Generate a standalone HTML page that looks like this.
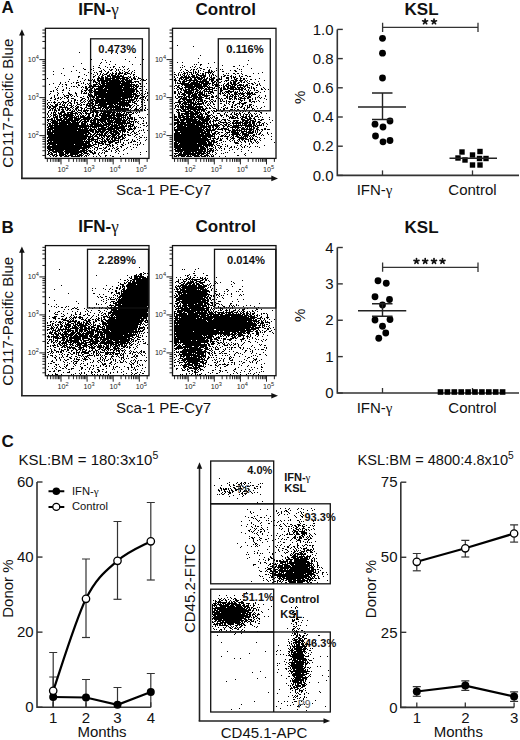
<!DOCTYPE html>
<html><head><meta charset="utf-8"><style>
html,body{margin:0;padding:0;background:#fff;width:520px;height:740px;overflow:hidden}
svg{display:block}
text{font-family:"Liberation Sans",sans-serif}
</style></head><body>
<svg width="520" height="740" viewBox="0 0 520 740" font-family="Liberation Sans, sans-serif">
<rect width="520" height="740" fill="#fff"/>
<g>
<path d="M79 52.5h1m31 1h1m5 0h1m17 4h1m-45 2h1m10 0h1m22 0h1m17 0h1m-39 1h1m4 1h1m18 0h1m-29 1h1m4 0h1m-26 1h1m18 0h1m8 1h1m5 0h1m16 0h1m7 0h1m-42 1h1m-27 1h1m19 0h1m11 0h1m7 0h2m7 0h1m1 0h1m-35 1h1m7 0h2m7 0h1m2 0h1m2 0h1m5 0h1m3 0h1m-61 1h1m19 0h1m9 0h1m6 0h1m14 0h1m12 0h1m-45 1h2m5 0h1m11 0h1m5 0h1m1 0h2m3 0h1m1 0h1m1 0h1m3 0h1m2 0h1m-52 1h1m16 0h1m7 0h1m2 0h1m5 0h2m4 0h1m1 0h1m3 0h1m6 0h1m4 0h1m-82 1h1m17 0h1m27 0h3m3 0h1m2 0h1m6 0h1m3 0h1m4 0h1m3 0h1m3 0h1m-54 1h1m8 0h1m5 0h1m1 0h1m4 0h1m5 0h2m3 0h1m3 0h1m2 0h2m1 0h1m2 0h3m3 0h1m2 0h1m-74 1h1m29 0h1m5 0h1m2 0h1m2 0h1m2 0h2m2 0h1m1 0h2m1 0h2m1 0h5m1 0h2m1 0h3m1 0h1m-79 1h1m30 0h1m8 0h1m3 0h1m2 0h1m1 0h1m1 0h3m2 0h1m1 0h2m2 0h2m1 0h2m4 0h3m3 0h1m2 0h2m-71 1h1m21 0h1m8 0h1m3 0h1m2 0h2m3 0h3m1 0h5m1 0h2m1 0h2m1 0h1m9 0h1m-56 1h2m13 0h2m3 0h1m2 0h2m2 0h1m1 0h4m1 0h12m4 0h1m1 0h1m3 0h1m1 0h1m-59 1h1m14 0h1m4 0h2m1 0h3m1 0h3m2 0h1m1 0h8m2 0h6m1 0h2m2 0h2m3 0h1m-92 1h1m34 0h1m7 0h1m6 0h7m1 0h10m1 0h9m1 0h3m2 0h1m1 0h3m2 0h3m-72 1h1m15 0h1m2 0h1m3 0h1m1 0h1m2 0h2m1 0h4m1 0h6m1 0h7m1 0h1m1 0h6m1 0h1m1 0h2m1 0h2m1 0h1m3 0h1m1 0h1m2 0h1m-70 1h1m6 0h1m3 0h2m1 0h1m1 0h2m2 0h23m1 0h3m1 0h7m8 0h1m2 0h3m-78 1h1m11 0h1m12 0h3m2 0h2m1 0h7m1 0h16m1 0h6m2 0h5m-79 1h1m4 0h1m7 0h1m2 0h3m4 0h1m9 0h1m1 0h3m1 0h1m1 0h4m1 0h15m1 0h12m1 0h1m2 0h1m-86 1h1m6 0h1m10 0h1m4 0h1m4 0h1m1 0h1m3 0h1m1 0h2m5 0h1m1 0h2m1 0h29m1 0h1m7 0h2m5 0h1m-98 1h1m9 0h1m2 0h1m2 0h2m11 0h1m6 0h1m2 0h1m4 0h5m1 0h2m1 0h3m1 0h14m1 0h14m1 0h2m2 0h1m-75 1h1m11 0h2m9 0h3m1 0h3m2 0h1m1 0h32m1 0h4m1 0h1m-81 1h1m3 0h1m8 0h1m1 0h2m1 0h1m5 0h1m2 0h2m2 0h1m1 0h32m1 0h10m1 0h4m1 0h3m1 0h1m-90 1h1m10 0h1m10 0h1m3 0h1m1 0h1m1 0h2m1 0h3m1 0h2m4 0h6m1 0h25m1 0h1m1 0h2m1 0h2m-81 1h1m8 0h1m2 0h1m15 0h3m3 0h2m1 0h1m1 0h7m1 0h18m1 0h11m1 0h2m2 0h2m-85 1h1m6 0h1m18 0h1m3 0h2m1 0h3m2 0h13m1 0h29m9 0h1m-94 1h1m3 0h1m4 0h2m5 0h1m11 0h1m2 0h3m1 0h5m1 0h2m2 0h37m1 0h2m2 0h2m-92 1h2m1 0h1m27 0h2m2 0h1m3 0h3m1 0h30m1 0h11m1 0h3m3 0h1m2 0h1m-89 1h1m4 0h1m5 0h1m6 0h1m5 0h1m2 0h1m1 0h1m2 0h1m1 0h2m1 0h12m1 0h27m2 0h1m2 0h1m7 0h1m-98 1h1m7 0h1m9 0h2m5 0h2m4 0h1m1 0h4m1 0h1m5 0h38m1 0h3m1 0h1m1 0h1m1 0h2m2 0h1m1 0h1m-99 1h1m7 0h1m5 0h1m5 0h3m4 0h1m11 0h2m1 0h1m2 0h43m3 0h1m1 0h1m1 0h1m-91 1h1m2 0h1m6 0h1m1 0h3m1 0h1m1 0h1m3 0h1m11 0h5m1 0h3m1 0h34m1 0h1m1 0h5m1 0h2m4 0h1m-94 1h1m9 0h2m2 0h1m2 0h1m2 0h1m2 0h1m5 0h1m3 0h1m1 0h1m1 0h4m1 0h38m1 0h4m4 0h2m1 0h1m-96 1h1m2 0h1m3 0h1m1 0h1m1 0h1m3 0h3m11 0h2m5 0h2m3 0h3m1 0h25m1 0h11m1 0h2m1 0h1m2 0h2m1 0h1m1 0h1m-96 1h2m3 0h1m1 0h2m2 0h1m2 0h1m2 0h1m3 0h3m8 0h3m3 0h1m4 0h1m1 0h4m2 0h3m1 0h23m1 0h1m1 0h1m2 0h4m1 0h2m4 0h1m-92 1h2m4 0h1m7 0h1m5 0h2m5 0h2m2 0h1m2 0h1m1 0h5m1 0h29m2 0h1m1 0h6m1 0h1m4 0h1m1 0h1m3 0h1m-101 1h1m2 0h1m6 0h1m10 0h1m2 0h1m2 0h2m1 0h1m2 0h2m2 0h1m2 0h1m1 0h1m1 0h2m1 0h27m1 0h12m2 0h1m1 0h1m5 0h1m2 0h1m-94 1h1m7 0h2m3 0h2m2 0h1m2 0h1m5 0h1m2 0h1m1 0h1m2 0h3m1 0h2m1 0h30m1 0h1m1 0h3m1 0h1m1 0h2m1 0h1m3 0h1m-94 1h2m1 0h1m1 0h3m2 0h2m1 0h1m1 0h4m2 0h2m3 0h1m1 0h2m3 0h2m1 0h1m3 0h1m1 0h3m2 0h11m1 0h11m1 0h12m1 0h3m6 0h1m2 0h1m-98 1h1m6 0h1m2 0h1m2 0h1m2 0h1m1 0h1m2 0h1m1 0h2m2 0h1m2 0h1m2 0h1m6 0h3m1 0h3m1 0h3m1 0h30m5 0h3m-90 1h1m2 0h1m4 0h3m1 0h2m1 0h1m1 0h1m2 0h1m3 0h1m5 0h3m1 0h1m1 0h2m1 0h2m1 0h2m1 0h2m1 0h1m2 0h15m1 0h2m1 0h13m2 0h1m3 0h1m4 0h1m-94 1h1m2 0h2m2 0h3m4 0h3m2 0h1m1 0h3m1 0h1m2 0h1m3 0h2m4 0h7m1 0h13m2 0h5m1 0h3m1 0h13m2 0h1m2 0h2m5 0h2m-99 1h1m1 0h2m1 0h5m2 0h3m2 0h1m1 0h1m4 0h2m2 0h1m1 0h2m7 0h1m1 0h3m1 0h3m3 0h1m1 0h7m1 0h13m1 0h3m1 0h2m1 0h2m2 0h1m2 0h1m4 0h1m-95 1h1m1 0h2m2 0h3m3 0h9m2 0h2m1 0h1m2 0h3m1 0h2m3 0h2m3 0h1m1 0h4m2 0h4m1 0h18m1 0h1m1 0h1m4 0h2m1 0h1m3 0h1m3 0h1m4 0h1m-98 1h2m1 0h3m1 0h1m1 0h1m1 0h1m2 0h1m2 0h1m1 0h3m2 0h1m2 0h3m3 0h2m1 0h1m2 0h7m1 0h6m1 0h2m1 0h4m1 0h2m1 0h1m1 0h14m2 0h1m3 0h2m2 0h1m2 0h1m2 0h1m-96 1h1m1 0h1m1 0h2m2 0h2m1 0h3m1 0h1m1 0h2m1 0h1m2 0h1m1 0h2m1 0h1m2 0h1m2 0h1m1 0h1m4 0h1m1 0h3m4 0h1m1 0h1m1 0h1m1 0h2m1 0h20m1 0h1m3 0h5m1 0h2m2 0h1m2 0h1m-99 1h2m1 0h1m1 0h3m1 0h2m2 0h2m2 0h2m1 0h2m1 0h1m1 0h1m1 0h1m1 0h4m1 0h6m1 0h2m1 0h6m1 0h3m1 0h2m1 0h19m1 0h3m3 0h2m1 0h1m1 0h1m2 0h2m1 0h2m-98 1h1m5 0h1m1 0h1m4 0h4m6 0h4m2 0h1m3 0h1m1 0h3m1 0h1m2 0h1m1 0h6m2 0h12m1 0h2m1 0h5m1 0h4m4 0h1m5 0h1m2 0h1m-92 1h1m2 0h1m1 0h3m2 0h1m1 0h5m2 0h6m2 0h2m1 0h3m1 0h1m2 0h2m3 0h4m1 0h4m2 0h1m1 0h13m1 0h1m1 0h1m1 0h1m2 0h1m1 0h6m1 0h1m1 0h1m1 0h1m1 0h1m-93 1h1m3 0h1m1 0h1m1 0h1m2 0h4m2 0h2m1 0h2m1 0h8m2 0h2m1 0h1m1 0h6m2 0h1m2 0h2m2 0h6m1 0h4m1 0h3m1 0h5m2 0h2m1 0h1m1 0h1m3 0h2m2 0h1m-90 1h1m2 0h1m2 0h4m2 0h3m1 0h10m2 0h1m1 0h1m1 0h1m1 0h1m4 0h1m1 0h2m2 0h2m2 0h2m1 0h2m1 0h8m1 0h4m1 0h8m1 0h3m1 0h3m15 0h1m-100 1h1m2 0h1m1 0h3m1 0h1m1 0h1m1 0h13m1 0h1m2 0h1m1 0h1m1 0h2m1 0h1m2 0h2m2 0h2m1 0h3m1 0h28m2 0h2m7 0h1m-91 1h1m1 0h1m2 0h1m1 0h3m1 0h3m1 0h2m1 0h7m1 0h1m1 0h3m1 0h5m2 0h3m2 0h2m1 0h4m2 0h11m1 0h2m1 0h6m1 0h1m1 0h1m1 0h1m1 0h2m-84 1h1m1 0h1m3 0h5m1 0h2m2 0h5m1 0h8m1 0h1m1 0h12m2 0h2m3 0h1m1 0h6m1 0h8m1 0h3m1 0h5m1 0h2m1 0h3m1 0h1m4 0h2m1 0h1m2 0h1m-95 1h2m1 0h1m1 0h2m2 0h3m1 0h3m1 0h5m1 0h7m2 0h8m1 0h1m1 0h4m2 0h22m1 0h1m1 0h1m1 0h6m1 0h1m6 0h1m1 0h1m-97 1h6m1 0h1m1 0h6m1 0h10m1 0h6m1 0h9m1 0h1m1 0h17m1 0h1m1 0h9m1 0h2m1 0h2m1 0h1m1 0h2m1 0h3m-90 1h2m2 0h5m1 0h8m1 0h13m1 0h2m2 0h2m1 0h2m1 0h6m1 0h9m1 0h7m1 0h12m1 0h2m4 0h1m8 0h1m-96 1h1m1 0h1m1 0h6m1 0h1m1 0h9m1 0h5m1 0h1m1 0h2m1 0h7m1 0h2m1 0h3m1 0h2m1 0h6m1 0h6m1 0h7m1 0h4m1 0h1m1 0h5m1 0h2m1 0h1m4 0h1m-97 1h1m3 0h7m1 0h12m1 0h8m1 0h2m1 0h3m3 0h6m1 0h3m1 0h2m1 0h3m1 0h18m1 0h3m1 0h1m1 0h1m1 0h1m1 0h1m8 0h1m-99 1h3m1 0h27m2 0h5m1 0h1m3 0h8m1 0h1m1 0h2m1 0h6m1 0h1m1 0h1m1 0h15m2 0h1m4 0h1m3 0h2m2 0h1m-100 1h1m1 0h2m1 0h1m1 0h4m1 0h8m1 0h11m2 0h5m1 0h1m1 0h13m1 0h10m1 0h3m1 0h5m1 0h1m1 0h1m3 0h4m6 0h1m-94 1h1m1 0h40m1 0h3m1 0h13m1 0h2m1 0h9m1 0h3m1 0h2m1 0h3m1 0h2m9 0h2m2 0h1m-100 1h5m1 0h50m2 0h3m1 0h8m1 0h8m1 0h5m1 0h1m1 0h1m9 0h1m-100 1h2m1 0h28m1 0h8m1 0h1m1 0h1m1 0h5m1 0h1m2 0h6m1 0h5m1 0h11m3 0h1m1 0h1m3 0h2m2 0h1m1 0h1m-93 1h33m1 0h1m1 0h5m1 0h2m2 0h1m1 0h1m1 0h8m1 0h18m1 0h1m2 0h3m1 0h3m-89 1h6m1 0h34m1 0h7m1 0h18m1 0h3m2 0h5m1 0h6m1 0h1m8 0h1m-97 1h1m1 0h2m1 0h25m1 0h16m1 0h2m1 0h3m1 0h4m2 0h4m1 0h4m1 0h8m2 0h2m3 0h1m5 0h1m1 0h1m1 0h1m3 0h1m-101 1h4m1 0h37m1 0h4m1 0h10m1 0h3m1 0h8m1 0h2m1 0h4m1 0h1m4 0h2m4 0h1m-92 1h43m2 0h2m1 0h4m1 0h4m1 0h3m1 0h3m1 0h6m1 0h1m1 0h1m1 0h1m2 0h2m2 0h1m2 0h1m1 0h1m7 0h1m-98 1h6m1 0h33m1 0h3m3 0h2m1 0h1m1 0h1m1 0h2m1 0h3m1 0h1m1 0h4m1 0h5m2 0h1m7 0h1m3 0h2m3 0h1m-93 1h37m1 0h4m1 0h2m1 0h2m1 0h7m1 0h2m1 0h1m3 0h6m1 0h2m2 0h4m1 0h2m3 0h1m3 0h2m-90 1h40m2 0h1m1 0h2m1 0h2m2 0h8m1 0h3m1 0h4m1 0h2m2 0h2m1 0h2m2 0h3m4 0h1m6 0h1m-95 1h45m1 0h4m1 0h1m1 0h1m1 0h2m1 0h4m1 0h4m1 0h1m1 0h5m1 0h1m9 0h1m4 0h1m-93 1h40m1 0h3m1 0h2m3 0h2m2 0h2m1 0h1m2 0h2m1 0h1m1 0h5m1 0h3m1 0h2m1 0h1m10 0h1m3 0h2m2 0h1m1 0h1m-100 1h1m1 0h38m1 0h2m1 0h3m3 0h4m1 0h2m2 0h2m1 0h1m1 0h2m1 0h6m2 0h3m14 0h1m-92 1h38m1 0h11m3 0h2m1 0h1m1 0h4m1 0h2m1 0h2m2 0h1m1 0h3m5 0h1m3 0h1m4 0h1m8 0h1m-100 1h36m1 0h1m1 0h1m1 0h2m1 0h3m1 0h1m1 0h1m1 0h1m2 0h1m1 0h2m1 0h2m1 0h1m1 0h7m1 0h1m3 0h1m1 0h2m4 0h1m1 0h1m4 0h1m5 0h1m-99 1h2m1 0h2m1 0h39m2 0h4m2 0h7m1 0h7m3 0h1m1 0h1m10 0h1m1 0h3m-88 1h36m1 0h5m2 0h1m2 0h5m1 0h2m1 0h2m2 0h5m2 0h4m1 0h1m2 0h1m4 0h1m1 0h2m5 0h1m2 0h1m-94 1h43m2 0h1m2 0h1m2 0h6m1 0h1m3 0h2m4 0h2m6 0h1m4 0h1m11 0h1m-94 1h1m1 0h7m1 0h17m1 0h12m1 0h3m2 0h4m1 0h1m3 0h2m1 0h5m2 0h1m4 0h1m3 0h2m2 0h1m7 0h1m1 0h1m1 0h1m1 0h1m3 0h1m-96 1h2m2 0h42m4 0h1m1 0h2m5 0h1m1 0h2m1 0h2m8 0h2m13 0h1m-91 1h35m1 0h9m2 0h1m3 0h1m7 0h1m1 0h1m1 0h1m1 0h1m4 0h1m2 0h2m8 0h1m-84 1h43m2 0h1m2 0h3m5 0h1m1 0h2m6 0h1m2 0h1m4 0h1m5 0h1m5 0h1m2 0h1m-90 1h4m1 0h35m1 0h1m1 0h1m3 0h1m2 0h1m1 0h3m2 0h2m3 0h1m2 0h1m1 0h1m2 0h2m7 0h1m-79 1h32m2 0h3m1 0h2m6 0h1m2 0h1m5 0h1m4 0h2m6 0h2m6 0h1m6 0h1m-85 1h1m1 0h5m1 0h9m1 0h14m1 0h7m1 0h3m1 0h1m3 0h1m5 0h1m1 0h1m1 0h1m4 0h1m3 0h1m2 0h1m4 0h1m-76 1h2m2 0h11m1 0h21m1 0h2m1 0h3m2 0h1m10 0h3m3 0h1m4 0h1m2 0h1m26 0h1m-99 1h1m1 0h2m1 0h4m1 0h6m1 0h17m1 0h4m3 0h3m1 0h2m3 0h1m2 0h1m1 0h1m10 0h1m24 0h1m-93 1h2m1 0h2m3 0h1m2 0h5m1 0h4m1 0h9m2 0h2m1 0h5m3 0h4m2 0h1m2 0h1m2 0h1m13 0h1m8 0h1m-81 1h2m1 0h3m1 0h3m2 0h7m1 0h1m2 0h8m1 0h3m1 0h1m3 0h1m1 0h1m3 0h1m4 0h1m24 0h1m16 0h1m-92 1h1m2 0h3m1 0h2m1 0h5m1 0h2m1 0h5m2 0h1m1 0h6m2 0h2m1 0h1m10 0h1m5 0h2m3 0h1m-61 1h1m2 0h1m1 0h2m3 0h2m2 0h5m2 0h9m1 0h1m2 0h1m1 0h1m6 0h1m2 0h1m3 0h1m4 0h1m6 0h2m6 0h1" stroke="#000" stroke-width="1" fill="none"/>
<path d="M177 45.5h1m15 1h1m36 1h1m-31 8h1m-3 3h1m49 2h1m-72 2h1m4 0h1m15 0h1m15 0h1m-7 1h1m9 0h1m-25 1h1m1 0h1m3 0h2m45 0h1m-66 1h1m17 0h1m21 0h1m16 0h1m-56 1h1m7 0h1m2 0h1m37 0h2m8 0h1m-64 1h1m1 0h1m7 0h1m3 0h1m4 0h1m7 0h1m2 0h1m-14 1h1m2 0h2m14 0h1m20 0h1m13 0h1m-71 1h1m3 0h1m5 0h1m1 0h2m1 0h1m6 0h2m4 0h1m10 0h1m1 0h1m16 0h1m1 0h1m-62 1h1m5 0h2m2 0h1m2 0h1m4 0h1m1 0h1m7 0h2m1 0h1m4 0h1m1 0h1m11 0h1m3 0h2m-53 1h1m4 0h1m4 0h1m1 0h1m2 0h1m4 0h1m4 0h2m1 0h2m1 0h1m3 0h1m3 0h2m11 0h2m4 0h1m-68 1h1m4 0h1m1 0h1m2 0h1m1 0h2m1 0h3m1 0h1m1 0h2m1 0h1m6 0h7m1 0h1m48 0h1m-85 1h1m4 0h3m1 0h1m3 0h1m1 0h1m1 0h1m1 0h1m2 0h1m1 0h2m1 0h1m2 0h1m1 0h1m1 0h1m13 0h1m1 0h1m4 0h2m2 0h2m2 0h1m11 0h1m4 0h1m-85 1h2m2 0h1m1 0h1m1 0h1m1 0h1m2 0h1m1 0h1m1 0h2m3 0h3m3 0h2m1 0h1m3 0h1m2 0h2m4 0h1m4 0h1m11 0h1m6 0h1m-67 1h1m1 0h1m1 0h1m2 0h2m1 0h1m1 0h1m3 0h3m1 0h1m1 0h8m3 0h1m1 0h1m1 0h1m1 0h1m2 0h1m5 0h2m1 0h2m2 0h1m7 0h1m5 0h2m-73 1h1m6 0h2m1 0h3m1 0h2m1 0h4m1 0h2m2 0h2m1 0h3m3 0h1m1 0h1m4 0h1m4 0h1m1 0h2m5 0h2m1 0h1m1 0h1m3 0h1m1 0h2m4 0h1m1 0h2m-77 1h1m2 0h1m2 0h11m1 0h8m1 0h4m2 0h1m2 0h2m1 0h2m6 0h1m4 0h3m2 0h1m1 0h3m4 0h1m-66 1h1m3 0h3m1 0h1m1 0h4m1 0h2m2 0h2m1 0h6m1 0h1m1 0h2m1 0h1m1 0h4m4 0h1m1 0h1m4 0h3m2 0h1m2 0h1m1 0h2m2 0h2m1 0h2m1 0h1m12 0h1m-86 1h2m3 0h1m1 0h2m1 0h3m2 0h3m2 0h3m1 0h4m1 0h4m2 0h5m2 0h2m1 0h3m6 0h1m5 0h3m3 0h1m2 0h2m5 0h2m3 0h1m-82 1h3m1 0h2m3 0h2m1 0h12m2 0h1m1 0h5m2 0h1m1 0h3m2 0h3m6 0h4m2 0h3m1 0h3m1 0h4m2 0h1m1 0h1m16 0h1m-90 1h1m3 0h2m1 0h5m2 0h2m2 0h2m1 0h13m2 0h2m1 0h2m1 0h1m3 0h1m2 0h1m1 0h1m3 0h1m2 0h4m3 0h2m2 0h1m1 0h1m2 0h1m8 0h1m-84 1h1m1 0h1m2 0h1m1 0h3m3 0h2m1 0h7m1 0h5m1 0h4m3 0h3m1 0h1m2 0h2m7 0h1m1 0h2m1 0h3m2 0h2m1 0h1m1 0h2m2 0h1m6 0h1m-80 1h1m1 0h12m1 0h10m1 0h10m1 0h2m2 0h1m1 0h1m5 0h1m2 0h2m1 0h2m1 0h3m1 0h2m9 0h2m1 0h2m2 0h1m3 0h1m-79 1h21m1 0h5m1 0h1m2 0h1m1 0h5m4 0h1m2 0h3m2 0h6m2 0h3m1 0h1m2 0h2m4 0h2m3 0h1m1 0h1m-85 1h2m1 0h2m2 0h1m1 0h9m1 0h8m1 0h4m1 0h1m3 0h2m1 0h3m1 0h1m1 0h1m1 0h1m1 0h2m1 0h3m1 0h1m1 0h2m1 0h7m1 0h3m1 0h1m6 0h2m2 0h1m-87 1h1m2 0h2m2 0h1m3 0h23m1 0h1m5 0h3m5 0h2m1 0h3m1 0h5m2 0h1m2 0h1m2 0h3m1 0h1m3 0h1m-75 1h3m2 0h1m1 0h11m1 0h7m1 0h1m2 0h6m1 0h1m4 0h1m1 0h1m1 0h2m2 0h2m1 0h6m1 0h6m1 0h1m2 0h3m1 0h1m1 0h1m2 0h1m6 0h1m-90 1h1m1 0h1m2 0h4m2 0h1m2 0h6m1 0h2m1 0h6m1 0h2m1 0h2m2 0h3m1 0h1m1 0h1m1 0h2m1 0h3m1 0h7m1 0h2m1 0h2m1 0h3m1 0h1m3 0h1m1 0h1m1 0h2m6 0h1m2 0h1m-88 1h2m1 0h2m1 0h1m1 0h5m1 0h7m1 0h1m1 0h1m2 0h9m5 0h1m1 0h2m1 0h5m2 0h13m1 0h2m2 0h1m5 0h1m6 0h2m2 0h1m2 0h1m-92 1h1m3 0h1m1 0h4m1 0h6m2 0h3m1 0h1m2 0h2m1 0h1m2 0h1m2 0h1m1 0h3m3 0h3m5 0h2m3 0h1m5 0h1m1 0h2m3 0h1m1 0h1m1 0h1m3 0h1m1 0h2m-84 1h2m2 0h1m1 0h1m3 0h8m1 0h1m1 0h3m1 0h2m1 0h1m1 0h9m7 0h2m3 0h9m1 0h1m1 0h1m1 0h1m3 0h1m3 0h1m1 0h1m8 0h1m5 0h1m-91 1h2m2 0h1m1 0h2m2 0h10m1 0h1m1 0h6m1 0h1m3 0h1m1 0h4m4 0h1m1 0h1m1 0h1m1 0h1m1 0h3m1 0h2m2 0h4m2 0h1m1 0h1m2 0h1m1 0h3m1 0h2m2 0h3m2 0h1m-87 1h2m2 0h2m2 0h3m1 0h7m1 0h4m1 0h4m1 0h1m1 0h1m1 0h3m2 0h1m4 0h3m1 0h2m1 0h1m2 0h2m4 0h3m1 0h7m1 0h7m1 0h1m-78 1h1m1 0h1m1 0h5m2 0h3m1 0h5m1 0h7m1 0h1m4 0h1m8 0h1m3 0h1m2 0h1m1 0h1m1 0h2m1 0h4m1 0h1m1 0h3m3 0h4m1 0h4m14 0h1m-94 1h1m5 0h3m2 0h2m1 0h6m1 0h3m1 0h8m2 0h1m3 0h1m6 0h3m1 0h1m2 0h1m1 0h2m1 0h1m2 0h1m1 0h1m2 0h2m2 0h1m1 0h1m1 0h1m7 0h1m5 0h1m-91 1h1m2 0h5m1 0h1m1 0h4m1 0h7m1 0h3m2 0h4m3 0h3m1 0h2m9 0h2m1 0h4m1 0h3m1 0h1m3 0h2m1 0h2m1 0h3m7 0h1m6 0h1m-91 1h1m2 0h2m1 0h1m1 0h4m1 0h4m1 0h11m2 0h1m2 0h1m1 0h3m3 0h1m8 0h2m1 0h1m2 0h1m1 0h2m3 0h3m2 0h1m2 0h4m4 0h1m1 0h1m1 0h1m1 0h1m-86 1h2m2 0h7m2 0h1m2 0h5m1 0h4m3 0h5m6 0h1m1 0h2m1 0h1m2 0h2m1 0h1m1 0h3m2 0h3m1 0h1m1 0h6m1 0h2m3 0h1m2 0h1m4 0h1m3 0h1m-86 1h2m1 0h13m1 0h7m6 0h1m1 0h2m7 0h1m1 0h1m6 0h2m1 0h1m1 0h1m1 0h1m1 0h3m3 0h1m4 0h2m1 0h1m2 0h1m10 0h1m-89 1h2m3 0h2m1 0h6m1 0h2m1 0h1m1 0h1m1 0h3m1 0h2m4 0h1m2 0h1m1 0h1m2 0h1m1 0h1m1 0h1m3 0h1m13 0h3m1 0h1m4 0h2m7 0h1m-81 1h5m1 0h2m1 0h5m1 0h1m1 0h1m1 0h6m1 0h1m1 0h2m1 0h1m1 0h2m1 0h2m4 0h2m1 0h2m1 0h1m1 0h3m2 0h2m4 0h1m1 0h1m7 0h2m1 0h3m1 0h1m2 0h1m-85 1h6m2 0h11m1 0h2m1 0h1m3 0h2m1 0h2m3 0h1m1 0h1m13 0h1m2 0h1m2 0h2m5 0h2m3 0h3m4 0h1m2 0h1m8 0h1m-90 1h1m4 0h2m1 0h5m1 0h1m1 0h6m1 0h7m1 0h1m2 0h1m1 0h1m2 0h1m6 0h2m4 0h1m1 0h1m4 0h1m3 0h3m1 0h5m-69 1h1m1 0h1m1 0h2m1 0h8m1 0h9m1 0h1m3 0h1m1 0h1m3 0h2m9 0h1m4 0h1m2 0h1m2 0h2m2 0h1m2 0h2m5 0h3m-77 1h2m1 0h1m1 0h1m1 0h2m1 0h1m2 0h4m1 0h2m1 0h1m2 0h1m4 0h1m2 0h2m1 0h1m13 0h2m6 0h1m1 0h2m6 0h1m2 0h1m1 0h1m1 0h2m2 0h1m-79 1h1m1 0h2m1 0h14m1 0h8m2 0h1m5 0h1m2 0h1m3 0h1m4 0h1m7 0h2m4 0h1m1 0h1m1 0h2m4 0h1m1 0h1m1 0h1m4 0h1m7 0h1m-90 1h1m2 0h1m1 0h4m1 0h18m3 0h1m2 0h1m2 0h1m8 0h1m3 0h1m1 0h1m3 0h2m1 0h1m2 0h1m2 0h2m2 0h1m2 0h3m1 0h1m9 0h1m-88 1h1m6 0h3m1 0h1m1 0h10m1 0h3m1 0h2m1 0h3m1 0h2m2 0h3m2 0h1m4 0h2m1 0h2m7 0h1m7 0h2m2 0h1m4 0h2m3 0h1m2 0h1m-85 1h5m1 0h7m1 0h16m10 0h1m3 0h1m2 0h2m5 0h3m1 0h1m2 0h2m5 0h1m1 0h1m5 0h1m1 0h1m-78 1h2m1 0h2m1 0h3m2 0h3m2 0h3m1 0h3m1 0h4m1 0h1m4 0h1m1 0h2m1 0h3m4 0h1m5 0h1m5 0h1m3 0h1m2 0h1m7 0h2m-76 1h1m1 0h1m2 0h12m1 0h4m1 0h1m1 0h1m1 0h2m3 0h2m2 0h1m1 0h3m4 0h2m6 0h1m6 0h1m3 0h1m2 0h1m1 0h1m3 0h1m5 0h2m1 0h2m-83 1h3m5 0h4m1 0h4m1 0h6m4 0h1m1 0h3m3 0h1m11 0h1m1 0h1m4 0h1m1 0h1m4 0h1m2 0h1m5 0h2m10 0h2m-84 1h2m1 0h18m1 0h2m1 0h1m1 0h2m1 0h1m4 0h1m3 0h3m4 0h1m6 0h1m2 0h1m1 0h2m1 0h2m3 0h1m3 0h1m1 0h1m3 0h1m1 0h1m4 0h1m4 0h1m-93 1h1m3 0h2m1 0h2m1 0h5m1 0h8m1 0h4m2 0h3m3 0h1m8 0h1m3 0h1m1 0h1m3 0h2m2 0h3m1 0h1m1 0h1m2 0h1m1 0h3m1 0h1m1 0h1m3 0h1m3 0h1m-86 1h1m3 0h6m2 0h3m1 0h4m1 0h1m1 0h3m1 0h2m4 0h4m1 0h1m3 0h1m3 0h3m3 0h2m4 0h1m3 0h2m2 0h1m2 0h1m2 0h1m2 0h1m1 0h2m4 0h1m-84 1h3m1 0h3m1 0h13m1 0h7m1 0h1m1 0h4m3 0h2m6 0h1m4 0h1m1 0h1m1 0h1m1 0h3m2 0h1m3 0h3m1 0h2m1 0h2m1 0h2m2 0h3m2 0h1m-87 1h3m1 0h7m1 0h3m1 0h15m1 0h3m1 0h1m1 0h1m1 0h1m1 0h2m5 0h1m5 0h5m1 0h3m2 0h1m1 0h5m2 0h2m3 0h1m3 0h1m3 0h1m6 0h1m-96 1h1m2 0h1m1 0h2m2 0h10m1 0h2m2 0h6m1 0h5m1 0h1m3 0h3m11 0h1m1 0h5m1 0h2m2 0h2m2 0h3m1 0h3m1 0h2m-81 1h5m1 0h18m1 0h11m3 0h1m2 0h1m2 0h1m2 0h4m1 0h1m13 0h4m2 0h4m3 0h2m2 0h2m1 0h3m5 0h1m-96 1h5m1 0h5m1 0h11m1 0h2m1 0h8m1 0h1m2 0h6m2 0h1m2 0h2m2 0h2m3 0h6m3 0h7m1 0h4m1 0h1m4 0h2m10 0h1m-96 1h3m1 0h3m2 0h15m1 0h6m1 0h2m1 0h2m1 0h1m3 0h2m4 0h1m4 0h1m2 0h2m1 0h2m2 0h1m1 0h2m1 0h3m1 0h2m1 0h4m2 0h2m-86 1h17m1 0h13m1 0h2m1 0h2m2 0h1m4 0h1m1 0h7m1 0h2m2 0h2m1 0h8m1 0h7m1 0h3m2 0h4m3 0h1m5 0h1m-97 1h5m1 0h6m1 0h22m1 0h1m2 0h1m2 0h1m1 0h2m3 0h1m2 0h2m2 0h1m1 0h9m1 0h6m1 0h2m1 0h3m1 0h1m2 0h1m2 0h2m2 0h1m-93 1h2m1 0h18m1 0h7m1 0h1m1 0h3m2 0h1m1 0h5m2 0h2m2 0h3m1 0h2m3 0h1m2 0h1m1 0h1m1 0h1m1 0h1m1 0h3m1 0h4m1 0h2m1 0h1m2 0h1m1 0h1m1 0h1m3 0h1m-94 1h1m2 0h6m1 0h21m1 0h1m1 0h12m2 0h2m1 0h2m1 0h1m1 0h2m1 0h19m1 0h3m1 0h5m1 0h1m-88 1h10m1 0h12m1 0h11m1 0h2m1 0h4m4 0h2m2 0h3m2 0h7m2 0h1m3 0h9m1 0h3m8 0h1m-93 1h2m1 0h30m1 0h3m1 0h2m2 0h2m1 0h1m3 0h1m3 0h1m2 0h11m1 0h2m1 0h1m1 0h1m1 0h1m1 0h1m1 0h2m2 0h2m-85 1h1m2 0h25m1 0h2m1 0h2m1 0h2m2 0h1m1 0h2m1 0h1m2 0h6m1 0h1m3 0h1m2 0h1m1 0h2m2 0h4m1 0h2m1 0h3m1 0h2m1 0h2m6 0h2m-92 1h30m1 0h6m1 0h4m1 0h6m1 0h5m3 0h3m1 0h2m1 0h1m1 0h13m2 0h3m2 0h2m1 0h2m1 0h3m-96 1h31m1 0h9m7 0h1m2 0h1m2 0h3m1 0h10m2 0h1m1 0h1m2 0h3m1 0h1m1 0h1m1 0h1m1 0h1m2 0h1m-88 1h3m2 0h23m1 0h6m1 0h1m3 0h3m7 0h1m3 0h1m1 0h5m1 0h1m1 0h1m1 0h6m1 0h3m1 0h2m1 0h1m1 0h1m3 0h1m-87 1h31m1 0h3m1 0h1m2 0h2m2 0h2m1 0h2m3 0h4m1 0h8m2 0h3m2 0h8m1 0h1m1 0h1m2 0h1m6 0h1m-94 1h6m1 0h19m1 0h9m2 0h4m1 0h2m6 0h1m1 0h1m4 0h7m1 0h1m1 0h5m1 0h5m3 0h1m2 0h2m6 0h1m3 0h1m-98 1h30m1 0h6m1 0h3m1 0h1m2 0h1m4 0h1m1 0h1m2 0h1m1 0h9m2 0h7m4 0h2m1 0h1m1 0h2m2 0h1m5 0h1m-95 1h39m1 0h1m6 0h3m1 0h1m3 0h1m2 0h2m2 0h2m1 0h2m1 0h1m1 0h5m1 0h1m1 0h3m6 0h1m1 0h1m-90 1h41m3 0h1m1 0h3m1 0h5m2 0h1m1 0h1m1 0h4m2 0h1m1 0h5m1 0h1m1 0h1m1 0h1m1 0h2m14 0h1m-98 1h27m1 0h5m1 0h3m3 0h1m3 0h1m8 0h1m2 0h1m1 0h2m3 0h7m1 0h1m1 0h1m2 0h1m1 0h1m4 0h1m1 0h1m-86 1h34m2 0h1m1 0h4m1 0h2m1 0h1m1 0h1m3 0h2m3 0h4m4 0h8m2 0h2m1 0h2m6 0h1m3 0h1m-91 1h37m2 0h1m2 0h2m2 0h2m5 0h1m2 0h1m2 0h1m4 0h2m1 0h3m1 0h4m1 0h3m1 0h1m1 0h1m2 0h1m11 0h1m-98 1h35m2 0h4m4 0h3m7 0h1m2 0h1m1 0h1m2 0h1m1 0h1m2 0h1m1 0h1m3 0h1m1 0h1m3 0h2m4 0h1m-86 1h31m1 0h3m1 0h4m1 0h2m5 0h1m1 0h1m4 0h1m3 0h1m3 0h1m1 0h1m3 0h2m2 0h1m1 0h2m3 0h1m1 0h1m-84 1h3m1 0h29m1 0h4m1 0h4m4 0h1m12 0h4m3 0h1m3 0h1m5 0h1m1 0h1m2 0h1m1 0h1m15 0h1m-101 1h5m1 0h17m1 0h9m1 0h4m1 0h1m3 0h1m1 0h1m15 0h4m10 0h1m2 0h1m4 0h1m-84 1h4m1 0h35m2 0h1m5 0h1m2 0h1m15 0h1m7 0h1m-76 1h28m1 0h10m1 0h1m2 0h3m7 0h1m9 0h1m2 0h1m4 0h1m18 0h1m-91 1h30m1 0h3m1 0h1m1 0h2m2 0h1m4 0h2m3 0h1m1 0h1m3 0h1m2 0h1m6 0h1m2 0h1m2 0h1m2 0h1m4 0h1m1 0h1m-84 1h25m1 0h5m1 0h2m5 0h1m1 0h1m2 0h1m1 0h1m9 0h2m2 0h1m1 0h1m5 0h1m1 0h1m4 0h1m9 0h1m-85 1h6m1 0h17m1 0h6m1 0h1m1 0h4m2 0h1m3 0h1m1 0h1m2 0h1m4 0h1m8 0h1m-65 1h2m1 0h29m1 0h2m1 0h2m1 0h1m2 0h1m7 0h1m7 0h1m4 0h1m3 0h1m-67 1h28m1 0h2m1 0h1m1 0h5m1 0h1m1 0h1m3 0h1m7 0h1m18 0h1m-74 1h8m1 0h13m1 0h8m1 0h4m1 0h2m27 0h1m-64 1h1m1 0h2m1 0h8m1 0h2m1 0h7m1 0h2m1 0h2m1 0h1m2 0h1m2 0h1m9 0h1m1 0h1m6 0h1m16 0h1m-78 1h4m1 0h3m1 0h23m1 0h3m6 0h1m4 0h1m1 0h1m21 0h1m-71 1h1m2 0h18m1 0h3m1 0h3m2 0h2m2 0h1m1 0h1m2 0h1m28 0h1m-71 1h1m1 0h10m1 0h2m1 0h1m1 0h7m1 0h2m2 0h5m2 0h1m1 0h1m23 0h2m6 0h1m-72 1h3m1 0h1m2 0h4m1 0h6m2 0h6m1 0h5m1 0h1m1 0h1m1 0h3m5 0h1m5 0h1" stroke="#000" stroke-width="1" fill="none"/>
<path d="M139 267.5h1m-81 2h1m83 3h1m-4 1h2m2 0h2m1 0h1m-12 1h1m2 0h3m1 0h1m-48 1h1m30 0h1m6 0h3m1 0h1m1 0h2m-11 1h1m2 0h10m3 0h1m-19 1h1m1 0h1m2 0h4m1 0h7m1 0h1m-18 1h2m2 0h7m1 0h6m-28 1h1m6 0h1m4 0h16m-24 1h2m2 0h1m1 0h2m1 0h2m1 0h12m-21 1h1m2 0h1m1 0h3m1 0h12m-30 1h1m5 0h1m1 0h1m1 0h3m1 0h16m-28 1h1m3 0h2m2 0h20m-28 1h4m3 0h9m1 0h11m-87 1h1m44 0h1m11 0h1m3 0h2m2 0h22m-36 1h1m7 0h1m1 0h3m1 0h22m-32 1h2m2 0h1m1 0h1m1 0h1m2 0h21m-56 1h1m2 0h1m7 0h1m6 0h1m5 0h2m1 0h2m2 0h2m2 0h21m-94 1h1m50 0h1m3 0h1m2 0h1m6 0h1m2 0h3m1 0h22m-56 1h1m22 0h2m4 0h1m1 0h25m-40 1h1m6 0h2m4 0h27m-37 1h2m3 0h1m1 0h2m1 0h1m1 0h25m-80 1h1m24 0h2m16 0h1m4 0h4m1 0h27m-49 1h1m3 0h1m10 0h1m4 0h1m1 0h27m-35 1h1m1 0h1m1 0h1m2 0h28m-51 1h1m2 0h1m4 0h2m10 0h1m1 0h29m-99 1h1m48 0h1m2 0h2m6 0h1m1 0h1m1 0h1m4 0h3m1 0h26m-42 1h1m3 0h1m4 0h1m1 0h1m1 0h1m1 0h27m-45 1h1m4 0h1m1 0h5m1 0h1m1 0h30m-94 1h1m46 0h1m4 0h1m9 0h1m1 0h30m-72 1h1m26 0h1m7 0h4m2 0h31m-42 1h1m3 0h1m2 0h1m1 0h33m-70 1h1m17 0h1m8 0h1m7 0h4m1 0h30m-100 1h1m7 0h1m39 0h1m1 0h1m2 0h1m8 0h1m4 0h6m1 0h26m-39 1h5m1 0h33m-97 1h1m2 0h1m3 0h1m7 0h1m1 0h1m38 0h1m3 0h1m2 0h2m2 0h29m-91 1h1m4 0h2m2 0h1m8 0h1m2 0h1m11 0h1m4 0h1m4 0h1m2 0h1m5 0h1m1 0h38m-76 1h2m1 0h2m7 0h1m7 0h1m6 0h1m1 0h1m3 0h2m2 0h3m1 0h35m-84 1h1m3 0h1m2 0h1m5 0h2m7 0h1m20 0h1m3 0h6m1 0h30m-99 1h1m37 0h1m3 0h1m6 0h2m4 0h1m6 0h37m-99 1h1m8 0h2m3 0h1m8 0h1m4 0h1m7 0h1m2 0h1m11 0h1m5 0h1m3 0h2m1 0h35m-93 1h1m1 0h1m17 0h1m4 0h1m9 0h1m8 0h1m2 0h1m5 0h39m-93 1h1m6 0h1m5 0h1m7 0h1m4 0h1m6 0h1m6 0h1m6 0h1m2 0h2m2 0h3m1 0h36m-93 1h3m5 0h1m7 0h1m3 0h2m2 0h2m4 0h1m1 0h1m10 0h1m4 0h1m1 0h1m2 0h1m2 0h37m-84 1h1m6 0h1m1 0h1m9 0h2m3 0h2m3 0h1m4 0h1m2 0h2m3 0h1m1 0h1m1 0h4m1 0h33m-99 1h1m4 0h3m4 0h3m6 0h1m3 0h1m1 0h1m2 0h2m11 0h1m3 0h1m6 0h5m1 0h1m1 0h2m1 0h1m1 0h32m-96 1h4m10 0h1m2 0h1m1 0h1m1 0h4m1 0h5m4 0h1m3 0h1m6 0h1m2 0h1m1 0h2m2 0h35m1 0h4m-98 1h1m3 0h3m2 0h2m2 0h1m2 0h2m3 0h1m1 0h2m1 0h1m3 0h2m1 0h1m3 0h1m3 0h1m5 0h1m1 0h2m1 0h1m2 0h1m4 0h6m1 0h31m-92 1h1m5 0h5m3 0h1m1 0h1m1 0h1m7 0h3m1 0h1m2 0h2m2 0h2m1 0h1m1 0h2m2 0h1m1 0h3m2 0h32m1 0h3m2 0h1m-84 1h6m1 0h1m1 0h2m1 0h2m7 0h3m1 0h3m4 0h2m1 0h2m1 0h2m2 0h39m1 0h3m-98 1h2m1 0h1m2 0h1m2 0h2m1 0h1m4 0h10m1 0h2m3 0h1m2 0h4m3 0h1m1 0h2m4 0h3m2 0h37m1 0h2m1 0h1m-101 1h1m2 0h1m4 0h1m2 0h4m1 0h1m1 0h1m2 0h3m3 0h2m1 0h3m1 0h1m1 0h2m1 0h2m1 0h2m2 0h2m7 0h4m1 0h35m3 0h3m-101 1h1m4 0h2m6 0h1m1 0h1m2 0h1m1 0h2m2 0h3m1 0h1m1 0h5m1 0h1m1 0h4m1 0h1m2 0h1m5 0h1m2 0h37m1 0h2m1 0h1m-94 1h1m1 0h1m2 0h1m1 0h2m1 0h2m3 0h6m2 0h1m1 0h3m1 0h5m1 0h2m1 0h2m1 0h1m1 0h1m1 0h1m4 0h1m1 0h5m1 0h33m1 0h1m1 0h1m2 0h1m-101 1h4m1 0h1m2 0h2m1 0h1m2 0h2m1 0h1m1 0h5m2 0h3m1 0h11m2 0h1m2 0h3m1 0h3m3 0h1m1 0h33m2 0h1m4 0h2m-96 1h1m1 0h1m3 0h1m2 0h3m1 0h3m1 0h3m1 0h1m1 0h3m1 0h1m1 0h6m2 0h2m1 0h3m3 0h4m1 0h3m1 0h32m1 0h1m3 0h1m-97 1h2m2 0h2m1 0h1m1 0h2m2 0h2m3 0h5m2 0h6m1 0h4m1 0h3m1 0h2m1 0h5m1 0h2m1 0h3m1 0h1m1 0h32m1 0h6m2 0h1m-98 1h4m2 0h1m1 0h1m1 0h1m2 0h1m1 0h2m1 0h1m1 0h9m1 0h3m1 0h8m2 0h1m1 0h3m3 0h3m1 0h31m1 0h5m1 0h1m2 0h1m-101 1h3m1 0h1m1 0h1m1 0h1m2 0h13m4 0h3m1 0h8m1 0h2m1 0h4m1 0h41m1 0h2m3 0h2m-98 1h1m4 0h4m1 0h3m1 0h2m2 0h1m1 0h7m1 0h3m1 0h4m1 0h4m1 0h1m1 0h7m1 0h1m2 0h7m1 0h24m1 0h2m1 0h1m1 0h1m1 0h2m-94 1h1m1 0h1m2 0h3m1 0h1m2 0h1m1 0h7m1 0h2m1 0h3m1 0h4m1 0h2m1 0h7m1 0h7m1 0h7m1 0h32m-94 1h4m1 0h2m2 0h1m1 0h1m2 0h4m1 0h1m2 0h5m1 0h3m1 0h1m1 0h1m2 0h8m1 0h1m1 0h41m1 0h1m4 0h1m2 0h1m-101 1h1m1 0h3m2 0h3m1 0h3m1 0h1m1 0h4m2 0h5m1 0h5m1 0h12m3 0h2m1 0h3m1 0h24m1 0h3m1 0h1m1 0h1m1 0h1m1 0h1m1 0h1m1 0h1m-93 1h3m1 0h4m1 0h14m1 0h2m1 0h6m1 0h4m1 0h4m1 0h4m1 0h5m1 0h31m1 0h1m-91 1h1m4 0h1m2 0h3m2 0h3m1 0h2m1 0h5m1 0h4m1 0h9m1 0h4m1 0h5m1 0h3m1 0h1m1 0h17m1 0h11m1 0h1m1 0h1m1 0h1m1 0h1m-96 1h3m1 0h7m1 0h1m2 0h7m1 0h2m1 0h15m1 0h9m1 0h1m1 0h4m1 0h27m3 0h3m3 0h1m3 0h1m-99 1h2m1 0h1m1 0h6m1 0h5m1 0h2m1 0h12m1 0h6m2 0h2m1 0h12m1 0h24m2 0h2m1 0h1m2 0h3m-88 1h1m1 0h6m1 0h4m1 0h1m1 0h12m1 0h8m1 0h2m2 0h4m1 0h2m1 0h24m1 0h4m2 0h1m2 0h1m-91 1h1m1 0h3m1 0h1m3 0h1m4 0h3m1 0h2m1 0h3m2 0h7m1 0h2m4 0h5m1 0h4m2 0h9m1 0h20m1 0h3m3 0h3m2 0h2m-95 1h1m1 0h1m1 0h1m1 0h3m3 0h4m1 0h13m1 0h2m1 0h6m1 0h4m1 0h4m1 0h1m1 0h4m1 0h5m1 0h6m1 0h10m1 0h1m1 0h1m1 0h2m-89 1h1m2 0h2m2 0h1m1 0h1m1 0h2m2 0h1m1 0h4m1 0h9m2 0h1m1 0h3m3 0h11m1 0h4m1 0h7m2 0h14m1 0h1m1 0h2m1 0h1m2 0h1m1 0h1m2 0h1m-97 1h1m3 0h1m1 0h2m1 0h1m2 0h2m1 0h5m1 0h4m1 0h7m1 0h3m1 0h6m1 0h6m2 0h26m1 0h3m1 0h1m6 0h1m6 0h1m-99 1h2m4 0h1m4 0h2m1 0h6m3 0h1m1 0h2m1 0h1m1 0h10m3 0h8m1 0h15m1 0h4m1 0h8m1 0h2m2 0h1m3 0h1m5 0h3m-92 1h1m2 0h1m1 0h2m1 0h1m1 0h1m1 0h2m1 0h4m3 0h6m2 0h3m1 0h5m1 0h2m2 0h1m1 0h1m3 0h3m1 0h1m1 0h7m1 0h5m1 0h1m1 0h1m2 0h1m1 0h2m2 0h1m3 0h1m7 0h1m-98 1h1m1 0h4m1 0h1m2 0h2m1 0h4m3 0h1m1 0h2m1 0h1m1 0h4m1 0h6m2 0h2m1 0h1m2 0h1m1 0h4m1 0h1m2 0h3m1 0h2m1 0h1m1 0h5m1 0h2m1 0h3m3 0h2m5 0h1m-91 1h2m1 0h1m2 0h1m3 0h2m3 0h3m1 0h2m1 0h1m1 0h1m3 0h3m1 0h2m2 0h4m1 0h2m1 0h2m1 0h2m1 0h5m1 0h2m1 0h3m1 0h1m1 0h1m1 0h4m1 0h1m1 0h5m1 0h1m1 0h1m6 0h1m-83 1h2m5 0h2m1 0h2m1 0h8m3 0h6m2 0h1m2 0h6m2 0h7m1 0h4m1 0h1m2 0h3m1 0h2m4 0h2m1 0h2m1 0h2m2 0h1m3 0h1m-88 1h1m8 0h1m7 0h1m1 0h2m1 0h4m3 0h3m1 0h1m5 0h1m1 0h4m4 0h2m2 0h1m1 0h5m3 0h7m1 0h2m6 0h1m5 0h1m-89 1h1m3 0h1m2 0h1m4 0h1m1 0h1m2 0h2m1 0h2m4 0h1m1 0h2m1 0h3m1 0h3m1 0h1m5 0h1m2 0h1m2 0h2m1 0h2m1 0h2m1 0h2m1 0h3m1 0h3m1 0h1m1 0h1m3 0h1m9 0h1m-84 1h1m2 0h2m5 0h3m3 0h2m2 0h2m3 0h2m2 0h1m1 0h1m2 0h2m2 0h1m1 0h2m2 0h3m4 0h3m1 0h1m1 0h1m1 0h1m2 0h2m1 0h4m1 0h3m1 0h1m4 0h1m10 0h1m-93 1h1m1 0h2m3 0h3m1 0h2m1 0h1m2 0h1m4 0h1m4 0h1m2 0h1m2 0h4m2 0h3m2 0h2m1 0h1m1 0h1m1 0h1m3 0h1m2 0h1m5 0h1m2 0h1m1 0h2m2 0h1m1 0h1m4 0h1m1 0h1m1 0h1m2 0h1m3 0h2m1 0h2m-98 1h2m2 0h1m1 0h1m2 0h1m1 0h1m1 0h2m6 0h2m3 0h2m1 0h4m1 0h8m4 0h2m1 0h1m1 0h1m1 0h4m1 0h10m4 0h1m4 0h1m5 0h1m2 0h3m1 0h1m1 0h1m1 0h1m1 0h2m-95 1h1m1 0h1m9 0h1m7 0h1m2 0h2m1 0h1m1 0h1m2 0h1m2 0h5m2 0h1m1 0h1m2 0h2m1 0h1m5 0h4m1 0h1m1 0h2m1 0h5m1 0h1m1 0h1m1 0h1m3 0h2m1 0h1m5 0h1m1 0h1m4 0h1m-98 1h1m10 0h1m1 0h1m2 0h1m2 0h2m2 0h2m3 0h1m1 0h1m3 0h2m5 0h1m3 0h1m2 0h1m1 0h1m1 0h1m4 0h3m1 0h3m1 0h1m1 0h3m2 0h1m1 0h2m8 0h1m2 0h1m5 0h1m-92 1h3m2 0h1m6 0h1m4 0h1m10 0h3m1 0h1m4 0h6m1 0h1m1 0h3m1 0h1m1 0h1m1 0h1m7 0h1m4 0h1m2 0h2m1 0h1m3 0h1m6 0h1m1 0h2m4 0h1m1 0h1m-98 1h1m4 0h1m3 0h1m5 0h1m3 0h2m3 0h1m3 0h2m4 0h1m1 0h1m1 0h3m6 0h1m6 0h1m3 0h2m4 0h3m2 0h1m1 0h1m4 0h1m3 0h1m5 0h2m1 0h2m-91 1h1m6 0h2m3 0h1m1 0h1m1 0h1m5 0h2m6 0h1m1 0h1m4 0h1m1 0h1m1 0h1m11 0h1m1 0h1m2 0h1m5 0h1m7 0h1m1 0h3m7 0h2m2 0h1m10 0h1m-92 1h1m3 0h1m10 0h2m2 0h1m1 0h1m5 0h1m1 0h2m3 0h1m7 0h1m2 0h1m2 0h1m1 0h1m4 0h1m1 0h1m8 0h1m1 0h1m2 0h1m1 0h1m7 0h1m-81 1h1m3 0h1m3 0h1m2 0h2m5 0h1m1 0h4m3 0h5m2 0h1m9 0h1m1 0h1m1 0h1m3 0h1m1 0h1m2 0h1m1 0h1m5 0h1m2 0h1m9 0h1m-83 1h1m3 0h1m3 0h1m4 0h2m6 0h1m4 0h1m2 0h1m3 0h1m7 0h1m4 0h2m2 0h1m1 0h1m1 0h2m5 0h1m1 0h1m3 0h1m3 0h1m7 0h1m1 0h1m1 0h1m2 0h1m1 0h2m2 0h1m1 0h1m-96 1h2m10 0h1m7 0h1m2 0h4m5 0h1m9 0h1m3 0h1m2 0h1m3 0h1m6 0h1m3 0h1m4 0h1m2 0h1m1 0h1m4 0h1m4 0h1m1 0h1m7 0h1m-93 1h2m9 0h1m2 0h1m5 0h1m2 0h1m13 0h1m1 0h1m5 0h1m2 0h1m8 0h2m5 0h1m2 0h3m3 0h1m4 0h1m2 0h1m2 0h1m-90 1h1m1 0h2m17 0h1m3 0h1m1 0h2m4 0h1m1 0h1m3 0h1m14 0h1m1 0h2m3 0h2m4 0h1m13 0h1m2 0h2m3 0h1m-83 1h2m1 0h1m5 0h1m2 0h1m6 0h1m5 0h1m6 0h1m14 0h4m5 0h1m2 0h1m15 0h2m1 0h1m5 0h1m2 0h1m-87 1h1m9 0h2m7 0h1m8 0h2m5 0h1m1 0h1m2 0h1m3 0h1m2 0h1m2 0h1m2 0h1m21 0h1m5 0h1m2 0h1m1 0h1m-95 1h1m5 0h1m4 0h1m4 0h1m1 0h1m6 0h1m6 0h1m12 0h1m6 0h1m4 0h2m2 0h1m3 0h1m2 0h2m6 0h1m6 0h1m4 0h1m1 0h1m-83 1h1m3 0h1m4 0h1m15 0h2m4 0h1m2 0h1m6 0h2m14 0h1m1 0h1m3 0h1m7 0h2m2 0h2m1 0h1m10 0h1m-94 1h1m2 0h1m6 0h2m2 0h1m4 0h3m7 0h2m6 0h1m3 0h1m12 0h1m6 0h1m14 0h1m5 0h1m7 0h1m-96 1h1m8 0h1m11 0h2m1 0h1m9 0h1m3 0h1m3 0h1m2 0h1m4 0h2m3 0h2m8 0h1m1 0h1m6 0h1m6 0h1m4 0h1m1 0h1m1 0h1m-84 1h1m3 0h3m18 0h1m18 0h2m31 0h1m3 0h1m5 0h1m-93 1h2m2 0h2m3 0h1m10 0h1m18 0h1m2 0h1m2 0h1m3 0h2m2 0h1m3 0h1m10 0h1m5 0h1m20 0h1m-82 1h1m3 0h3m11 0h1m2 0h1m6 0h2m2 0h1m1 0h1m7 0h2m3 0h1m2 0h1m3 0h1m3 0h1m9 0h1m5 0h1m2 0h1m-86 1h1m19 0h1m3 0h1m1 0h1m2 0h1m6 0h1m18 0h1m15 0h1m5 0h1m2 0h2m5 0h2m-96 1h1m3 0h1m2 0h3m3 0h1m9 0h1m1 0h1m6 0h1m5 0h1m5 0h1m1 0h1m2 0h1m2 0h1m2 0h1m4 0h1m14 0h1m7 0h1m2 0h1m4 0h1" stroke="#000" stroke-width="1" fill="none"/>
<path d="M198 268.5h1m-17 1h1m1 0h1m10 0h1m-2 2h1m-2 2h2m8 0h1m-15 1h1m-5 1h1m1 0h2m5 0h2m10 0h2m-21 1h1m2 0h1m-15 1h1m3 0h1m7 0h1m1 0h1m2 0h2m2 0h1m2 0h1m1 0h1m2 0h1m10 0h1m-31 1h2m1 0h2m1 0h1m7 0h3m1 0h2m1 0h1m-30 1h1m1 0h1m1 0h1m1 0h3m1 0h2m1 0h9m2 0h2m1 0h2m-29 1h1m4 0h1m2 0h1m3 0h1m1 0h1m1 0h3m3 0h3m2 0h2m1 0h1m33 0h1m-67 1h3m4 0h3m2 0h1m1 0h4m2 0h5m3 0h1m4 0h1m5 0h1m15 0h1m-57 1h1m2 0h1m2 0h2m1 0h1m2 0h7m1 0h2m2 0h6m11 0h1m3 0h1m12 0h1m-55 1h2m2 0h2m1 0h6m1 0h2m1 0h3m1 0h3m7 0h1m4 0h1m1 0h1m16 0h1m-54 1h3m1 0h3m1 0h2m1 0h3m1 0h4m2 0h2m3 0h1m1 0h1m21 0h1m-56 1h1m1 0h1m1 0h7m1 0h9m1 0h4m1 0h4m1 0h1m2 0h1m1 0h2m-40 1h1m1 0h4m1 0h15m1 0h9m3 0h1m21 0h1m9 0h1m-68 1h2m2 0h1m1 0h24m3 0h1m1 0h1m3 0h1m-39 1h2m1 0h2m1 0h22m1 0h1m1 0h1m4 0h1m-39 1h1m1 0h3m1 0h5m1 0h11m1 0h1m1 0h7m4 0h1m4 0h1m9 0h2m11 0h2m-64 1h1m2 0h21m1 0h7m2 0h1m2 0h1m13 0h1m-54 1h6m1 0h28m5 0h2m7 0h1m2 0h1m8 0h1m1 0h1m3 0h1m-66 1h30m2 0h1m-35 1h1m2 0h4m1 0h3m1 0h21m7 0h1m3 0h1m4 0h1m6 0h1m-56 1h1m1 0h2m1 0h29m6 0h2m1 0h1m7 0h1m3 0h1m8 0h1m2 0h1m-70 1h1m1 0h2m1 0h28m1 0h1m1 0h2m1 0h2m1 0h1m1 0h1m2 0h1m1 0h1m15 0h1m1 0h1m-67 1h3m1 0h27m1 0h2m2 0h1m1 0h1m5 0h1m11 0h1m-58 1h2m2 0h25m1 0h4m1 0h2m3 0h1m2 0h1m4 0h1m-47 1h29m1 0h2m1 0h2m12 0h1m-48 1h30m1 0h2m1 0h1m1 0h2m2 0h1m20 0h1m5 0h1m-68 1h4m2 0h19m1 0h7m2 0h1m-37 1h2m2 0h27m1 0h2m9 0h3m11 0h1m5 0h1m-62 1h3m1 0h27m2 0h3m2 0h1m-41 1h4m1 0h1m1 0h15m1 0h5m1 0h5m2 0h2m3 0h3m11 0h2m27 0h1m-84 1h2m2 0h1m2 0h4m1 0h6m1 0h8m1 0h2m1 0h3m2 0h1m1 0h2m3 0h1m1 0h1m8 0h1m5 0h1m-63 1h1m2 0h1m1 0h2m1 0h25m1 0h1m1 0h3m1 0h2m6 0h1m6 0h1m1 0h1m1 0h1m2 0h1m1 0h1m7 0h1m3 0h1m-77 1h1m1 0h5m1 0h5m1 0h13m1 0h5m1 0h1m4 0h2m3 0h1m4 0h2m4 0h1m2 0h1m1 0h1m8 0h1m10 0h1m-80 1h1m2 0h1m1 0h3m1 0h4m1 0h15m2 0h4m1 0h1m6 0h1m1 0h1m3 0h1m1 0h1m1 0h1m3 0h1m25 0h1m-83 1h33m2 0h1m1 0h1m2 0h1m3 0h3m7 0h1m1 0h1m11 0h1m2 0h1m8 0h1m-82 1h2m1 0h1m2 0h9m1 0h14m1 0h3m1 0h1m1 0h1m1 0h1m5 0h1m1 0h1m3 0h1m2 0h1m5 0h1m3 0h1m2 0h3m11 0h2m3 0h1m-85 1h32m1 0h1m2 0h1m4 0h1m1 0h2m3 0h3m1 0h1m3 0h3m2 0h1m3 0h2m8 0h1m2 0h1m16 0h1m-99 1h2m1 0h6m1 0h12m1 0h3m1 0h2m1 0h3m1 0h2m1 0h1m1 0h1m1 0h2m6 0h1m2 0h1m2 0h1m1 0h3m3 0h1m1 0h1m1 0h1m1 0h2m2 0h1m1 0h1m2 0h2m3 0h1m-84 1h1m2 0h5m1 0h2m2 0h7m1 0h12m1 0h5m1 0h2m1 0h7m1 0h8m1 0h4m2 0h1m1 0h2m2 0h2m2 0h1m3 0h1m-81 1h3m2 0h8m1 0h20m1 0h5m1 0h1m2 0h2m1 0h4m1 0h1m1 0h3m1 0h2m2 0h1m1 0h1m1 0h2m1 0h2m1 0h3m1 0h1m1 0h3m6 0h1m1 0h2m1 0h1m-93 1h1m1 0h11m1 0h10m1 0h7m1 0h16m2 0h16m1 0h3m1 0h2m1 0h2m1 0h2m3 0h1m3 0h1m5 0h1m-94 1h1m1 0h24m1 0h8m1 0h2m1 0h6m1 0h23m1 0h5m1 0h2m2 0h1m1 0h2m1 0h1m7 0h1m-94 1h4m1 0h27m1 0h23m1 0h16m1 0h7m2 0h1m3 0h1m5 0h1m-93 1h3m1 0h1m1 0h18m1 0h49m1 0h7m3 0h2m4 0h3m-95 1h22m1 0h5m1 0h10m1 0h41m2 0h4m1 0h1m1 0h1m2 0h1m-93 1h3m1 0h33m1 0h39m1 0h1m1 0h2m3 0h1m3 0h1m4 0h1m4 0h1m-101 1h32m1 0h50m1 0h2m1 0h1m1 0h1m1 0h1m-92 1h2m1 0h30m1 0h39m1 0h4m1 0h6m2 0h2m2 0h1m1 0h1m3 0h1m-98 1h79m1 0h1m1 0h1m1 0h2m1 0h3m1 0h5m-96 1h82m1 0h2m1 0h4m5 0h1m-96 1h1m1 0h2m1 0h78m3 0h1m1 0h1m1 0h1m1 0h2m-94 1h83m1 0h3m1 0h3m4 0h1m-96 1h77m1 0h4m3 0h1m2 0h1m1 0h1m1 0h1m1 0h1m-95 1h80m1 0h6m1 0h2m5 0h1m3 0h1m-100 1h76m1 0h8m5 0h2m1 0h2m1 0h1m-97 1h40m2 0h29m1 0h10m2 0h1m8 0h2m5 0h1m-101 1h77m2 0h1m2 0h2m1 0h1m2 0h1m3 0h1m4 0h1m-98 1h19m1 0h25m1 0h3m1 0h15m1 0h6m1 0h6m2 0h3m2 0h1m3 0h2m3 0h2m-97 1h1m1 0h54m2 0h4m1 0h8m1 0h4m6 0h3m1 0h1m1 0h1m1 0h1m7 0h1m-99 1h56m1 0h2m1 0h3m1 0h4m1 0h3m1 0h3m2 0h2m2 0h3m14 0h1m-100 1h43m1 0h1m1 0h2m1 0h13m1 0h6m5 0h1m1 0h1m5 0h3m4 0h1m-90 1h1m1 0h26m1 0h4m1 0h5m2 0h1m4 0h1m1 0h1m1 0h2m1 0h3m2 0h3m1 0h1m1 0h7m2 0h1m2 0h1m4 0h1m2 0h1m8 0h1m-94 1h29m1 0h1m1 0h8m4 0h1m1 0h2m1 0h1m2 0h1m1 0h1m2 0h2m1 0h2m2 0h3m2 0h1m2 0h3m1 0h1m6 0h1m4 0h1m-89 1h2m1 0h35m1 0h1m2 0h4m6 0h1m5 0h4m1 0h1m5 0h1m3 0h1m1 0h1m2 0h1m-79 1h32m1 0h5m2 0h3m1 0h2m1 0h1m1 0h3m4 0h4m1 0h2m5 0h3m2 0h1m4 0h1m2 0h1m-82 1h31m1 0h2m2 0h3m1 0h4m5 0h3m1 0h5m8 0h4m5 0h1m6 0h1m1 0h1m4 0h1m2 0h1m-93 1h5m1 0h11m1 0h4m1 0h12m1 0h2m5 0h2m1 0h1m2 0h1m5 0h2m4 0h1m5 0h1m3 0h1m15 0h1m3 0h1m-92 1h5m1 0h29m1 0h5m1 0h1m6 0h1m17 0h1m6 0h2m5 0h1m6 0h1m-89 1h34m2 0h1m1 0h2m3 0h2m1 0h2m1 0h1m2 0h1m4 0h1m12 0h1m5 0h1m6 0h1m-84 1h3m1 0h1m1 0h1m2 0h18m3 0h1m2 0h2m2 0h4m3 0h2m2 0h1m1 0h1m3 0h1m4 0h1m1 0h1m1 0h1m5 0h1m-69 1h3m1 0h1m2 0h25m1 0h2m1 0h3m3 0h1m5 0h2m2 0h1m1 0h1m1 0h1m2 0h2m2 0h1m3 0h1m16 0h1m1 0h1m-88 1h3m1 0h3m1 0h1m2 0h22m1 0h2m9 0h1m4 0h4m2 0h1m2 0h1m4 0h1m2 0h1m10 0h1m7 0h1m3 0h2m-92 1h1m2 0h5m1 0h9m2 0h5m1 0h7m2 0h2m1 0h1m3 0h1m5 0h1m15 0h1m12 0h1m-76 1h22m1 0h5m1 0h3m5 0h1m1 0h1m1 0h1m2 0h1m6 0h1m1 0h1m1 0h2m1 0h2m3 0h2m2 0h1m10 0h1m9 0h1m1 0h1m-93 1h9m1 0h2m1 0h1m1 0h12m3 0h4m1 0h1m1 0h1m3 0h1m2 0h1m6 0h1m5 0h1m8 0h1m2 0h1m3 0h1m1 0h1m16 0h1m-92 1h2m1 0h1m4 0h20m2 0h4m2 0h1m3 0h4m4 0h1m1 0h1m3 0h1m1 0h1m10 0h1m7 0h1m4 0h1m2 0h1m2 0h3m-90 1h1m7 0h20m2 0h2m3 0h2m1 0h1m11 0h1m20 0h2m5 0h1m12 0h1m-90 1h1m1 0h1m1 0h16m1 0h10m4 0h1m2 0h1m4 0h1m2 0h2m5 0h1m3 0h1m11 0h1m4 0h1m1 0h1m-79 1h1m1 0h3m1 0h7m1 0h18m1 0h3m2 0h1m1 0h1m6 0h1m14 0h2m6 0h1m7 0h1m10 0h1m-85 1h1m2 0h10m1 0h1m1 0h9m1 0h1m2 0h2m1 0h1m2 0h2m3 0h2m1 0h1m1 0h3m8 0h1m2 0h1m1 0h1m10 0h1m4 0h1m-83 1h2m3 0h17m1 0h7m1 0h1m3 0h1m2 0h1m16 0h1m4 0h1m7 0h1m16 0h2m4 0h1m-90 1h1m1 0h1m1 0h2m1 0h17m1 0h5m4 0h1m1 0h1m2 0h2m5 0h1m2 0h1m1 0h1m6 0h1m18 0h1m1 0h1m10 0h1m-91 1h1m3 0h5m1 0h4m1 0h1m1 0h13m2 0h1m21 0h1m8 0h1m5 0h1m5 0h1m5 0h1m-84 1h1m5 0h1m2 0h1m2 0h11m1 0h4m1 0h1m1 0h1m2 0h2m1 0h1m1 0h1m2 0h1m12 0h1m1 0h1m1 0h1m14 0h2m-71 1h4m1 0h16m1 0h2m1 0h1m2 0h2m10 0h1m1 0h1m2 0h1m4 0h2m16 0h1m5 0h1m2 0h1m-82 1h1m2 0h1m3 0h23m2 0h1m6 0h1m1 0h1m6 0h1m5 0h1m2 0h1m11 0h1m9 0h3m4 0h1m-88 1h1m4 0h1m1 0h5m1 0h13m2 0h1m1 0h3m5 0h1m2 0h1m4 0h1m2 0h1m6 0h3m13 0h1m6 0h1m1 0h1m3 0h1m-83 1h2m4 0h2m1 0h18m2 0h1m10 0h1m1 0h1m3 0h1m15 0h1m1 0h1m7 0h1m2 0h1m4 0h1m-84 1h2m3 0h4m1 0h3m1 0h10m2 0h4m1 0h2m7 0h2m1 0h1m10 0h1m2 0h2m1 0h1m8 0h2m5 0h1m1 0h1m3 0h1m-78 1h1m5 0h1m1 0h3m2 0h8m2 0h4m10 0h1m7 0h1m9 0h1m7 0h1m13 0h1m7 0h1m-84 1h1m2 0h9m1 0h4m1 0h1m3 0h1m1 0h1m2 0h1m6 0h1m3 0h2m1 0h4m1 0h2m2 0h1m2 0h1m4 0h1m21 0h1m-88 1h1m1 0h1m1 0h1m1 0h1m1 0h5m1 0h5m1 0h8m1 0h1m6 0h2m3 0h2m1 0h1m7 0h2m13 0h1m6 0h1m-75 1h1m8 0h6m3 0h2m1 0h2m1 0h6m1 0h1m11 0h1m6 0h2m21 0h1m13 0h1m-79 1h3m2 0h4m1 0h7m4 0h1m10 0h1m4 0h1m17 0h1m12 0h1m2 0h1m6 0h2m-87 1h2m3 0h1m2 0h1m2 0h1m1 0h9m1 0h2m19 0h1m14 0h1m21 0h1m-82 1h1m5 0h1m2 0h1m1 0h2m5 0h3m1 0h1m1 0h3m12 0h1m18 0h2m9 0h1m3 0h1m2 0h1m8 0h1m-80 1h3m2 0h1m3 0h2m2 0h1m1 0h1m2 0h1m2 0h1m8 0h2m5 0h2m4 0h2m6 0h1m7 0h1m8 0h1m-63 1h2m2 0h1m1 0h2m2 0h1m21 0h1m1 0h1m11 0h1m9 0h1m4 0h1m11 0h1m1 0h1m-70 1h4m10 0h1m3 0h1m6 0h1m7 0h1m8 0h1m3 0h1m15 0h1m2 0h1m-74 1h1m2 0h1m2 0h1m2 0h1m5 0h1m8 0h1m5 0h2m15 0h1m3 0h1m10 0h1m1 0h1m3 0h1m-75 1h1m1 0h1m3 0h1m4 0h1m3 0h1m1 0h1m1 0h2m4 0h1m24 0h1m9 0h1m5 0h1m6 0h1m4 0h1" stroke="#000" stroke-width="1" fill="none"/>
<path d="M219 478.5h1m9 4h1m7 0h1m3 0h1m2 0h2m4 0h1m-24 1h1m8 0h1m3 0h2m1 0h1m1 0h1m2 0h1m11 0h1m1 0h1m-34 1h1m3 0h1m4 0h2m1 0h1m2 0h1m13 0h1m-45 1h1m6 0h1m7 0h1m3 0h2m6 0h1m8 0h1m1 0h2m-24 1h1m5 0h5m1 0h1m2 0h1m1 0h3m6 0h2m2 0h1m-41 1h1m12 0h2m5 0h1m2 0h3m8 0h1m5 0h1m-41 1h2m1 0h1m1 0h2m1 0h1m1 0h1m3 0h2m2 0h4m3 0h1m1 0h2m5 0h2m1 0h1m-40 1h1m2 0h1m1 0h4m1 0h1m2 0h1m3 0h5m1 0h2m2 0h1m2 0h2m-32 1h2m1 0h1m2 0h1m4 0h1m1 0h2m2 0h2m3 0h1m3 0h3m1 0h1m4 0h1m-35 1h1m4 0h2m1 0h1m1 0h1m2 0h2m6 0h1m2 0h5m2 0h1m-29 1h1m2 0h1m2 0h3m1 0h1m6 0h1m2 0h1m4 0h2m2 0h1m2 0h1m2 0h1m-37 1h1m2 0h1m4 0h2m10 0h2m1 0h3m5 0h1m-36 1h1m1 0h1m2 0h2m4 0h1m10 0h1m2 0h1m2 0h1m14 0h1m-28 1h1m9 0h1m-15 1h1m12 0h1m-6 2h1m24 3h1m-6 1h1m-4 1h1m25 5h1m4 0h1m3 0h1m8 0h1m2 0h1m9 0h1m-65 1h1m12 0h1m6 0h1m20 0h1m8 0h1m5 0h1m10 0h1m-39 1h1m8 0h2m3 0h1m16 0h1m4 0h1m-63 1h1m25 0h1m4 0h1m2 0h1m1 0h2m12 0h1m-51 1h1m2 0h1m24 0h1m2 0h1m6 0h1m9 0h1m2 0h1m1 0h1m-53 1h1m25 0h1m3 0h1m7 0h1m6 0h1m4 0h1m-23 1h1m4 0h1m2 0h1m14 0h1m-46 1h1m8 0h1m11 0h1m15 0h1m5 0h1m2 0h1m-59 1h1m8 0h1m15 0h1m24 0h1m5 0h2m10 0h1m-66 1h1m2 0h2m7 0h2m2 0h1m23 0h1m7 0h1m5 0h1m-50 1h1m1 0h1m12 0h1m-13 1h1m33 0h1m9 0h1m-52 1h1m7 0h1m1 0h1m6 0h1m1 0h1m5 0h1m5 0h1m3 0h1m3 0h1m1 0h1m6 0h2m16 0h1m-75 1h1m16 0h1m12 0h1m6 0h1m2 0h1m17 0h1m1 0h1m1 0h1m9 0h1m-63 1h1m9 0h1m15 0h1m21 0h1m-49 1h1m8 0h1m7 0h2m13 0h1m3 0h1m12 0h1m12 0h2m-68 1h1m5 0h1m26 0h1m3 0h1m5 0h2m5 0h3m3 0h2m-64 1h1m13 0h1m5 0h1m12 0h1m1 0h1m2 0h1m5 0h1m6 0h1m1 0h2m2 0h3m1 0h1m3 0h1m3 0h1m1 0h1m1 0h1m-69 1h1m4 0h1m3 0h1m1 0h2m21 0h2m4 0h1m1 0h2m1 0h1m3 0h2m1 0h1m3 0h3m8 0h1m-62 1h1m8 0h1m5 0h1m25 0h1m2 0h2m5 0h1m4 0h2m-56 1h1m1 0h1m5 0h1m16 0h1m2 0h1m5 0h1m2 0h1m3 0h2m2 0h1m2 0h3m8 0h1m-64 1h1m4 0h1m4 0h2m1 0h1m3 0h1m13 0h1m6 0h1m4 0h1m2 0h3m1 0h1m1 0h1m2 0h2m1 0h1m2 0h1m2 0h1m-67 1h2m4 0h1m3 0h1m5 0h1m23 0h1m4 0h3m2 0h1m3 0h1m1 0h1m1 0h1m2 0h1m-61 1h1m1 0h1m1 0h1m6 0h2m2 0h1m19 0h1m3 0h1m3 0h1m1 0h4m1 0h6m-64 1h1m10 0h1m4 0h1m2 0h1m7 0h1m20 0h1m3 0h2m1 0h2m3 0h6m-62 1h1m8 0h1m1 0h1m5 0h1m14 0h1m9 0h1m1 0h1m3 0h1m2 0h3m2 0h6m2 0h1m4 0h1m-58 1h1m4 0h1m19 0h1m3 0h2m1 0h4m1 0h1m1 0h4m2 0h3m1 0h1m3 0h1m4 0h1m-58 1h1m8 0h1m3 0h1m4 0h1m3 0h1m3 0h1m10 0h1m5 0h2m1 0h1m4 0h1m1 0h1m-63 1h1m29 0h1m14 0h2m3 0h2m1 0h2m3 0h1m1 0h1m2 0h1m-62 1h2m1 0h1m4 0h1m27 0h2m4 0h3m1 0h1m1 0h3m1 0h1m2 0h1m1 0h1m1 0h1m-62 1h1m2 0h2m6 0h2m6 0h1m9 0h1m3 0h1m9 0h1m1 0h2m3 0h3m5 0h1m2 0h2m-59 1h1m5 0h1m5 0h2m8 0h1m5 0h1m2 0h1m1 0h1m4 0h1m4 0h1m1 0h2m4 0h3m1 0h2m-57 1h1m3 0h1m2 0h1m11 0h1m17 0h1m6 0h4m7 0h1m-56 1h1m13 0h1m12 0h1m15 0h1m3 0h1m2 0h1m3 0h1m7 0h1m-71 1h1m8 0h1m7 0h1m15 0h1m4 0h2m7 0h1m7 0h1m4 0h1m1 0h1m1 0h1m1 0h1m-75 1h1m17 0h2m40 0h1m-45 1h1m1 0h1m1 0h1m23 0h1m8 0h1m6 0h1m7 0h2m-60 1h1m8 0h1m2 0h1m17 0h1m2 0h1m8 0h1m7 0h2m3 0h1m1 0h1m2 0h1m1 0h2m1 0h2m-73 1h1m9 0h1m3 0h1m1 0h1m11 0h1m5 0h1m8 0h1m2 0h2m4 0h2m2 0h1m5 0h1m8 0h1m-73 1h1m35 0h1m2 0h1m7 0h2m2 0h1m2 0h1m2 0h1m2 0h1m5 0h1m5 0h1m-31 1h2m6 0h1m4 0h1m2 0h1m2 0h1m1 0h4m6 0h1m-47 1h1m10 0h1m6 0h2m6 0h1m2 0h1m6 0h2m2 0h2m1 0h2m1 0h1m-56 1h1m19 0h1m3 0h1m4 0h1m6 0h1m1 0h1m1 0h1m1 0h1m3 0h1m1 0h5m1 0h1m-59 1h1m24 0h1m8 0h1m2 0h1m2 0h2m1 0h1m3 0h4m1 0h1m3 0h2m2 0h1m-68 1h1m9 0h1m11 0h1m5 0h1m8 0h1m1 0h2m5 0h2m4 0h3m1 0h1m3 0h1m2 0h3m-59 1h1m2 0h1m2 0h1m1 0h1m9 0h1m12 0h1m5 0h1m1 0h1m1 0h4m1 0h3m1 0h2m10 0h1m-71 1h1m1 0h1m23 0h1m17 0h1m1 0h1m1 0h2m1 0h9m6 0h1m-54 1h1m21 0h1m8 0h2m1 0h3m1 0h1m3 0h1m1 0h1m3 0h1m2 0h1m4 0h1m-46 1h1m11 0h1m4 0h1m4 0h6m1 0h6m1 0h5m-62 1h1m14 0h1m5 0h2m13 0h1m1 0h2m2 0h5m1 0h6m1 0h4m1 0h1m3 0h1m-67 1h1m20 0h1m2 0h2m12 0h1m2 0h2m3 0h6m1 0h8m1 0h1m2 0h1m1 0h1m1 0h1m-58 1h1m3 0h1m4 0h2m4 0h1m7 0h1m3 0h7m1 0h15m2 0h1m2 0h1m-50 1h1m2 0h1m5 0h1m1 0h2m1 0h2m2 0h1m2 0h2m2 0h2m2 0h13m4 0h2m1 0h1m-57 1h1m17 0h2m1 0h9m1 0h3m2 0h15m2 0h2m1 0h1m1 0h1m-57 1h1m3 0h2m14 0h6m1 0h1m1 0h21m1 0h1m5 0h1m-58 1h1m5 0h1m3 0h1m1 0h2m1 0h1m1 0h1m2 0h3m2 0h1m1 0h19m1 0h6m4 0h1m-65 1h3m13 0h2m2 0h4m2 0h1m2 0h6m2 0h4m1 0h15m1 0h1m1 0h1m3 0h1m-65 1h1m14 0h1m3 0h1m3 0h1m1 0h5m1 0h6m1 0h21m1 0h1m3 0h2m-49 1h4m1 0h2m1 0h5m1 0h7m1 0h18m1 0h2m1 0h1m2 0h1m-60 1h1m8 0h1m4 0h1m1 0h2m1 0h31m1 0h5m3 0h1m1 0h1m1 0h1m-57 1h1m2 0h4m2 0h1m3 0h1m1 0h9m1 0h20m1 0h3m8 0h1m-56 1h4m2 0h5m1 0h4m1 0h2m1 0h1m1 0h21m1 0h5m1 0h2m-60 1h1m6 0h1m3 0h2m1 0h3m2 0h36m1 0h1m4 0h1m-61 1h2m3 0h1m1 0h1m2 0h8m1 0h35m1 0h1m2 0h1m-50 1h1m2 0h2m1 0h3m1 0h1m1 0h3m2 0h7m1 0h18m1 0h3m2 0h1m3 0h2m2 0h1m-57 1h6m2 0h4m1 0h1m1 0h21m1 0h7m2 0h2m4 0h1m-58 1h2m1 0h1m3 0h1m1 0h30m1 0h10m7 0h1m4 0h1m-69 1h1m10 0h1m1 0h1m1 0h35m1 0h2m2 0h2m1 0h1m-58 1h1m1 0h1m8 0h2m4 0h33m1 0h1m1 0h2m3 0h1m4 0h1m-55 1h1m1 0h2m2 0h1m1 0h1m1 0h2m1 0h3m1 0h21m1 0h3m1 0h1m1 0h1m3 0h1m-56 1h1m10 0h1m3 0h4m1 0h21m1 0h4m1 0h4m1 0h2m1 0h2m-54 1h1m5 0h1m6 0h1m1 0h3m2 0h10m1 0h4m1 0h3m2 0h5m-49 1h1m3 0h1m2 0h1m6 0h2m1 0h1m2 0h1m1 0h2m1 0h4m1 0h15m1 0h2m1 0h1m1 0h2m11 0h1m-77 1h1m16 0h1m5 0h2m1 0h1m1 0h2m1 0h1m5 0h8m1 0h8m1 0h2m1 0h1m-38 1h1m4 0h1m3 0h1m3 0h2m2 0h7m1 0h6m4 0h2m1 0h2m5 0h1" stroke="#000" stroke-width="1" fill="none"/>
<path d="M246 592.5h1m-28 3h1m6 0h1m7 0h1m7 0h1m-16 2h1m2 0h1m-13 1h1m2 0h1m2 0h1m6 0h1m2 0h2m-17 1h2m2 0h1m1 0h1m2 0h1m4 0h1m1 0h2m3 0h1m51 0h1m-80 1h1m1 0h1m3 0h1m1 0h2m2 0h2m3 0h1m4 0h4m4 0h1m-29 1h2m1 0h3m5 0h1m2 0h1m1 0h1m1 0h2m1 0h2m3 0h2m-28 1h1m1 0h10m1 0h2m1 0h2m1 0h2m2 0h6m11 0h1m36 0h1m-80 1h4m1 0h1m1 0h1m1 0h4m1 0h10m2 0h1m1 0h3m2 0h4m3 0h1m1 0h1m-44 1h1m1 0h2m1 0h5m1 0h1m1 0h5m1 0h10m2 0h2m3 0h1m4 0h1m4 0h1m4 0h1m-52 1h5m2 0h10m1 0h4m1 0h6m1 0h3m1 0h3m1 0h1m2 0h2m-43 1h1m1 0h1m1 0h1m3 0h15m1 0h6m1 0h6m4 0h1m17 0h1m24 0h1m-85 1h1m2 0h11m1 0h16m1 0h2m1 0h3m1 0h2m4 0h1m1 0h1m31 0h1m3 0h1m1 0h1m-86 1h33m1 0h2m1 0h1m1 0h1m1 0h3m39 0h1m-84 1h1m1 0h2m1 0h30m1 0h3m2 0h1m2 0h1m1 0h1m9 0h1m-57 1h1m1 0h4m1 0h32m1 0h2m2 0h1m1 0h1m37 0h1m-85 1h3m1 0h33m3 0h1m8 0h1m31 0h1m-82 1h8m1 0h25m1 0h5m2 0h1m7 0h1m29 0h2m-82 1h1m1 0h27m1 0h6m1 0h2m2 0h1m1 0h1m2 0h1m35 0h2m-84 1h33m1 0h5m1 0h3m2 0h3m34 0h2m-83 1h3m1 0h31m1 0h2m1 0h1m2 0h1m1 0h1m36 0h1m-83 1h1m1 0h37m2 0h1m1 0h2m7 0h1m3 0h1m24 0h1m-81 1h31m1 0h5m1 0h1m1 0h2m2 0h1m34 0h3m8 0h1m-92 1h34m2 0h1m4 0h1m2 0h1m1 0h2m36 0h2m-86 1h1m1 0h8m1 0h19m2 0h3m1 0h4m2 0h1m4 0h1m32 0h1m1 0h1m1 0h3m-84 1h2m1 0h26m1 0h3m2 0h2m1 0h1m3 0h1m34 0h3m7 0h1m4 0h1m-96 1h1m1 0h2m1 0h4m1 0h2m1 0h15m1 0h2m1 0h3m1 0h2m1 0h3m1 0h1m3 0h1m32 0h2m4 0h1m-87 1h2m3 0h1m2 0h21m1 0h1m1 0h1m2 0h1m2 0h1m4 0h1m39 0h2m4 0h1m-88 1h1m1 0h7m1 0h2m1 0h7m1 0h5m1 0h3m6 0h1m7 0h2m31 0h1m4 0h1m-84 1h5m1 0h2m1 0h1m1 0h2m2 0h6m3 0h5m1 0h2m5 0h2m41 0h1m2 0h1m-82 1h1m1 0h1m1 0h9m2 0h1m4 0h3m1 0h1m1 0h2m1 0h2m6 0h1m45 0h1m1 0h1m5 0h1m-95 1h1m2 0h1m10 0h1m1 0h1m2 0h1m1 0h1m2 0h1m3 0h2m12 0h1m2 0h1m35 0h2m1 0h1m-79 1h1m4 0h1m1 0h1m3 0h2m1 0h1m2 0h1m1 0h1m1 0h2m3 0h1m11 0h1m38 0h1m-83 1h1m10 0h1m5 0h2m2 0h3m1 0h1m48 0h1m5 0h2m2 0h1m1 0h1m-86 1h1m1 0h1m3 0h2m2 0h1m7 0h1m4 0h2m3 0h1m49 0h2m4 0h1m-80 1h1m1 0h1m4 0h1m3 0h1m10 0h1m2 0h1m47 0h1m1 0h1m1 0h1m4 0h2m-63 1h1m16 0h1m35 0h1m1 0h4m5 0h1m-11 1h1m1 0h2m-63 1h1m5 0h1m50 0h1m1 0h2m1 0h1m6 0h2m-72 1h1m59 0h2m1 0h1m1 0h1m7 0h1m-91 1h1m73 0h1m1 0h1m2 0h2m1 0h2m2 0h2m1 0h1m11 0h2m-24 1h2m2 0h1m1 0h2m-9 1h2m1 0h2m2 0h2m-11 1h2m3 0h4m2 0h3m-19 1h1m3 0h1m1 0h4m1 0h2m1 0h1m1 0h1m-12 1h4m1 0h6m-16 1h1m2 0h1m3 0h5m1 0h3m11 0h1m-95 1h1m34 0h1m32 0h1m3 0h8m1 0h1m1 0h1m-16 1h1m1 0h1m1 0h1m1 0h2m1 0h2m1 0h3m2 0h2m-17 1h1m2 0h1m1 0h4m1 0h3m1 0h2m-29 1h1m8 0h1m1 0h1m2 0h1m1 0h1m1 0h4m2 0h3m1 0h1m-17 1h1m1 0h15m-17 1h1m2 0h2m1 0h7m1 0h2m-18 1h1m1 0h1m1 0h1m1 0h8m1 0h4m3 0h1m1 0h1m-24 1h1m1 0h2m1 0h12m1 0h1m-31 1h1m2 0h1m9 0h4m2 0h6m1 0h2m4 0h2m-84 1h1m37 0h1m10 0h1m11 0h2m1 0h2m1 0h12m-17 1h1m1 0h5m1 0h6m1 0h1m1 0h1m4 0h1m-63 1h1m38 0h1m2 0h1m1 0h10m2 0h1m2 0h1m-33 1h1m3 0h1m2 0h1m5 0h1m1 0h13m6 0h1m-25 1h1m1 0h3m1 0h13m3 0h1m-88 1h1m68 0h14m1 0h4m11 0h1m6 0h1m-36 1h12m-70 1h1m5 0h1m50 0h1m1 0h13m7 0h1m-29 1h1m3 0h3m1 0h3m1 0h10m1 0h1m-20 1h1m2 0h6m1 0h2m1 0h5m2 0h3m-28 1h1m7 0h1m1 0h10m1 0h1m1 0h1m-22 1h1m2 0h17m1 0h2m3 0h1m-36 1h1m1 0h1m8 0h1m2 0h4m1 0h8m1 0h3m1 0h1m-25 1h1m3 0h1m1 0h13m1 0h2m-30 1h1m12 0h13m2 0h1m-18 1h2m1 0h13m1 0h1m11 0h1m2 0h1m-31 1h1m1 0h11m1 0h2m1 0h2m1 0h1m-26 1h2m1 0h1m1 0h1m1 0h13m4 0h1m-32 1h1m7 0h1m4 0h1m1 0h2m1 0h8m1 0h1m1 0h1m-19 1h2m2 0h13m1 0h1m20 0h1m-69 1h1m27 0h1m1 0h20m1 0h1m-60 1h1m24 0h1m13 0h2m2 0h12m-18 1h1m1 0h1m1 0h8m1 0h2m2 0h3m-17 1h15m3 0h1m-30 1h1m10 0h13m4 0h1m12 0h1m-35 1h2m3 0h2m1 0h7m2 0h1m2 0h1m1 0h1m17 0h1m-64 1h1m28 0h14m-51 1h1m28 0h1m4 0h1m1 0h1m1 0h6m1 0h5m-72 1h1m56 0h1m1 0h10m1 0h2m-17 1h1m1 0h12m1 0h1m20 0h1m-101 1h1m63 0h1m1 0h7m1 0h2m1 0h1m1 0h1m-13 1h9m1 0h2m4 0h1m8 0h1m-33 1h1m4 0h1m1 0h1m1 0h1m1 0h5m2 0h2m-14 1h2m1 0h1m1 0h2m2 0h4m1 0h1m-19 1h1m1 0h1m1 0h1m2 0h6m1 0h4m-16 1h1m2 0h2m1 0h5m1 0h3m-14 1h1m1 0h5m3 0h2m-13 1h3m1 0h1m2 0h2m1 0h1m4 0h1m-27 1h1m10 0h1m4 0h3m1 0h1m3 0h1m-12 1h1m2 0h1m3 0h4m2 0h1m-11 1h1m3 0h1m1 0h2m16 0h1m-52 1h1m21 0h1m4 0h1m1 0h1m3 0h1m4 0h1m13 0h1m-44 1h1m18 0h1m1 0h1m5 0h1m3 0h1m-10 1h2m3 0h1m-13 1h1m2 0h1m1 0h1m-10 1h1m5 0h1m1 0h2m6 0h1m-12 1h1m1 0h1m4 0h1m3 0h1m1 0h1m-10 1h1m1 0h1m3 0h1m-11 1h2m8 0h1m11 1h1m-62 1h1m23 0h1m5 0h1m2 0h1m6 0h3m4 0h1m-10 1h1m-12 1h1m30 0h1m-72 1h1m51 0h1m10 0h1m-18 1h1m2 0h1m7 0h1m1 0h1m-25 1h1m20 0h3m25 0h1m-87 2h1m40 0h1m-50 1h1m65 0h1m8 1h1" stroke="#000" stroke-width="1" fill="none"/>
</g>
<text x="1.60" y="12.80" font-size="17" font-weight="bold" text-anchor="start" fill="#111" >A</text>
<line x1="42.40" y1="155.47" x2="45.40" y2="155.47" stroke="#222" stroke-width="1.0"/>
<line x1="42.40" y1="150.72" x2="45.40" y2="150.72" stroke="#222" stroke-width="1.0"/>
<line x1="42.40" y1="147.04" x2="45.40" y2="147.04" stroke="#222" stroke-width="1.0"/>
<line x1="42.40" y1="144.03" x2="45.40" y2="144.03" stroke="#222" stroke-width="1.0"/>
<line x1="42.40" y1="141.49" x2="45.40" y2="141.49" stroke="#222" stroke-width="1.0"/>
<line x1="42.40" y1="139.28" x2="45.40" y2="139.28" stroke="#222" stroke-width="1.0"/>
<line x1="42.40" y1="137.34" x2="45.40" y2="137.34" stroke="#222" stroke-width="1.0"/>
<line x1="39.40" y1="135.60" x2="45.40" y2="135.60" stroke="#222" stroke-width="1.0"/>
<line x1="42.40" y1="124.16" x2="45.40" y2="124.16" stroke="#222" stroke-width="1.0"/>
<line x1="42.40" y1="117.47" x2="45.40" y2="117.47" stroke="#222" stroke-width="1.0"/>
<line x1="42.40" y1="112.72" x2="45.40" y2="112.72" stroke="#222" stroke-width="1.0"/>
<line x1="42.40" y1="109.04" x2="45.40" y2="109.04" stroke="#222" stroke-width="1.0"/>
<line x1="42.40" y1="106.03" x2="45.40" y2="106.03" stroke="#222" stroke-width="1.0"/>
<line x1="42.40" y1="103.49" x2="45.40" y2="103.49" stroke="#222" stroke-width="1.0"/>
<line x1="42.40" y1="101.28" x2="45.40" y2="101.28" stroke="#222" stroke-width="1.0"/>
<line x1="42.40" y1="99.34" x2="45.40" y2="99.34" stroke="#222" stroke-width="1.0"/>
<line x1="39.40" y1="97.60" x2="45.40" y2="97.60" stroke="#222" stroke-width="1.0"/>
<line x1="42.40" y1="86.16" x2="45.40" y2="86.16" stroke="#222" stroke-width="1.0"/>
<line x1="42.40" y1="79.47" x2="45.40" y2="79.47" stroke="#222" stroke-width="1.0"/>
<line x1="42.40" y1="74.72" x2="45.40" y2="74.72" stroke="#222" stroke-width="1.0"/>
<line x1="42.40" y1="71.04" x2="45.40" y2="71.04" stroke="#222" stroke-width="1.0"/>
<line x1="42.40" y1="68.03" x2="45.40" y2="68.03" stroke="#222" stroke-width="1.0"/>
<line x1="42.40" y1="65.49" x2="45.40" y2="65.49" stroke="#222" stroke-width="1.0"/>
<line x1="42.40" y1="63.28" x2="45.40" y2="63.28" stroke="#222" stroke-width="1.0"/>
<line x1="42.40" y1="61.34" x2="45.40" y2="61.34" stroke="#222" stroke-width="1.0"/>
<line x1="39.40" y1="59.60" x2="45.40" y2="59.60" stroke="#222" stroke-width="1.0"/>
<line x1="42.40" y1="48.16" x2="45.40" y2="48.16" stroke="#222" stroke-width="1.0"/>
<line x1="42.40" y1="41.47" x2="45.40" y2="41.47" stroke="#222" stroke-width="1.0"/>
<line x1="42.40" y1="36.72" x2="45.40" y2="36.72" stroke="#222" stroke-width="1.0"/>
<line x1="42.40" y1="33.04" x2="45.40" y2="33.04" stroke="#222" stroke-width="1.0"/>
<line x1="42.40" y1="30.03" x2="45.40" y2="30.03" stroke="#222" stroke-width="1.0"/>
<line x1="47.35" y1="158.40" x2="47.35" y2="161.90" stroke="#222" stroke-width="1.0"/>
<line x1="50.61" y1="158.40" x2="50.61" y2="161.90" stroke="#222" stroke-width="1.0"/>
<line x1="53.14" y1="158.40" x2="53.14" y2="161.90" stroke="#222" stroke-width="1.0"/>
<line x1="55.21" y1="158.40" x2="55.21" y2="161.90" stroke="#222" stroke-width="1.0"/>
<line x1="56.96" y1="158.40" x2="56.96" y2="161.90" stroke="#222" stroke-width="1.0"/>
<line x1="58.47" y1="158.40" x2="58.47" y2="161.90" stroke="#222" stroke-width="1.0"/>
<line x1="59.81" y1="158.40" x2="59.81" y2="161.90" stroke="#222" stroke-width="1.0"/>
<line x1="61.00" y1="158.40" x2="61.00" y2="164.40" stroke="#222" stroke-width="1.0"/>
<line x1="68.86" y1="158.40" x2="68.86" y2="161.90" stroke="#222" stroke-width="1.0"/>
<line x1="73.45" y1="158.40" x2="73.45" y2="161.90" stroke="#222" stroke-width="1.0"/>
<line x1="76.71" y1="158.40" x2="76.71" y2="161.90" stroke="#222" stroke-width="1.0"/>
<line x1="79.24" y1="158.40" x2="79.24" y2="161.90" stroke="#222" stroke-width="1.0"/>
<line x1="81.31" y1="158.40" x2="81.31" y2="161.90" stroke="#222" stroke-width="1.0"/>
<line x1="83.06" y1="158.40" x2="83.06" y2="161.90" stroke="#222" stroke-width="1.0"/>
<line x1="84.57" y1="158.40" x2="84.57" y2="161.90" stroke="#222" stroke-width="1.0"/>
<line x1="85.91" y1="158.40" x2="85.91" y2="161.90" stroke="#222" stroke-width="1.0"/>
<line x1="87.10" y1="158.40" x2="87.10" y2="164.40" stroke="#222" stroke-width="1.0"/>
<line x1="94.96" y1="158.40" x2="94.96" y2="161.90" stroke="#222" stroke-width="1.0"/>
<line x1="99.55" y1="158.40" x2="99.55" y2="161.90" stroke="#222" stroke-width="1.0"/>
<line x1="102.81" y1="158.40" x2="102.81" y2="161.90" stroke="#222" stroke-width="1.0"/>
<line x1="105.34" y1="158.40" x2="105.34" y2="161.90" stroke="#222" stroke-width="1.0"/>
<line x1="107.41" y1="158.40" x2="107.41" y2="161.90" stroke="#222" stroke-width="1.0"/>
<line x1="109.16" y1="158.40" x2="109.16" y2="161.90" stroke="#222" stroke-width="1.0"/>
<line x1="110.67" y1="158.40" x2="110.67" y2="161.90" stroke="#222" stroke-width="1.0"/>
<line x1="112.01" y1="158.40" x2="112.01" y2="161.90" stroke="#222" stroke-width="1.0"/>
<line x1="113.20" y1="158.40" x2="113.20" y2="164.40" stroke="#222" stroke-width="1.0"/>
<line x1="121.06" y1="158.40" x2="121.06" y2="161.90" stroke="#222" stroke-width="1.0"/>
<line x1="125.65" y1="158.40" x2="125.65" y2="161.90" stroke="#222" stroke-width="1.0"/>
<line x1="128.91" y1="158.40" x2="128.91" y2="161.90" stroke="#222" stroke-width="1.0"/>
<line x1="131.44" y1="158.40" x2="131.44" y2="161.90" stroke="#222" stroke-width="1.0"/>
<line x1="133.51" y1="158.40" x2="133.51" y2="161.90" stroke="#222" stroke-width="1.0"/>
<line x1="135.26" y1="158.40" x2="135.26" y2="161.90" stroke="#222" stroke-width="1.0"/>
<line x1="136.77" y1="158.40" x2="136.77" y2="161.90" stroke="#222" stroke-width="1.0"/>
<line x1="138.11" y1="158.40" x2="138.11" y2="161.90" stroke="#222" stroke-width="1.0"/>
<line x1="139.30" y1="158.40" x2="139.30" y2="164.40" stroke="#222" stroke-width="1.0"/>
<line x1="147.16" y1="158.40" x2="147.16" y2="161.90" stroke="#222" stroke-width="1.0"/>
<text x="38.90" y="61.90" font-size="7.2" text-anchor="end" fill="#222">10<tspan font-size="5.6" dy="-3.2">4</tspan></text>
<text x="38.90" y="99.90" font-size="7.2" text-anchor="end" fill="#222">10<tspan font-size="5.6" dy="-3.2">3</tspan></text>
<text x="38.90" y="137.90" font-size="7.2" text-anchor="end" fill="#222">10<tspan font-size="5.6" dy="-3.2">2</tspan></text>
<text x="57.40" y="171.90" font-size="7.2" fill="#222">10<tspan font-size="5.6" dy="-3.2">2</tspan></text>
<text x="83.50" y="171.90" font-size="7.2" fill="#222">10<tspan font-size="5.6" dy="-3.2">3</tspan></text>
<text x="109.60" y="171.90" font-size="7.2" fill="#222">10<tspan font-size="5.6" dy="-3.2">4</tspan></text>
<text x="135.70" y="171.90" font-size="7.2" fill="#222">10<tspan font-size="5.6" dy="-3.2">5</tspan></text>
<rect x="45.40" y="28.30" width="103.60" height="130.10" fill="none" stroke="#111" stroke-width="1.3"/>
<line x1="169.50" y1="155.47" x2="172.50" y2="155.47" stroke="#222" stroke-width="1.0"/>
<line x1="169.50" y1="150.72" x2="172.50" y2="150.72" stroke="#222" stroke-width="1.0"/>
<line x1="169.50" y1="147.04" x2="172.50" y2="147.04" stroke="#222" stroke-width="1.0"/>
<line x1="169.50" y1="144.03" x2="172.50" y2="144.03" stroke="#222" stroke-width="1.0"/>
<line x1="169.50" y1="141.49" x2="172.50" y2="141.49" stroke="#222" stroke-width="1.0"/>
<line x1="169.50" y1="139.28" x2="172.50" y2="139.28" stroke="#222" stroke-width="1.0"/>
<line x1="169.50" y1="137.34" x2="172.50" y2="137.34" stroke="#222" stroke-width="1.0"/>
<line x1="166.50" y1="135.60" x2="172.50" y2="135.60" stroke="#222" stroke-width="1.0"/>
<line x1="169.50" y1="124.16" x2="172.50" y2="124.16" stroke="#222" stroke-width="1.0"/>
<line x1="169.50" y1="117.47" x2="172.50" y2="117.47" stroke="#222" stroke-width="1.0"/>
<line x1="169.50" y1="112.72" x2="172.50" y2="112.72" stroke="#222" stroke-width="1.0"/>
<line x1="169.50" y1="109.04" x2="172.50" y2="109.04" stroke="#222" stroke-width="1.0"/>
<line x1="169.50" y1="106.03" x2="172.50" y2="106.03" stroke="#222" stroke-width="1.0"/>
<line x1="169.50" y1="103.49" x2="172.50" y2="103.49" stroke="#222" stroke-width="1.0"/>
<line x1="169.50" y1="101.28" x2="172.50" y2="101.28" stroke="#222" stroke-width="1.0"/>
<line x1="169.50" y1="99.34" x2="172.50" y2="99.34" stroke="#222" stroke-width="1.0"/>
<line x1="166.50" y1="97.60" x2="172.50" y2="97.60" stroke="#222" stroke-width="1.0"/>
<line x1="169.50" y1="86.16" x2="172.50" y2="86.16" stroke="#222" stroke-width="1.0"/>
<line x1="169.50" y1="79.47" x2="172.50" y2="79.47" stroke="#222" stroke-width="1.0"/>
<line x1="169.50" y1="74.72" x2="172.50" y2="74.72" stroke="#222" stroke-width="1.0"/>
<line x1="169.50" y1="71.04" x2="172.50" y2="71.04" stroke="#222" stroke-width="1.0"/>
<line x1="169.50" y1="68.03" x2="172.50" y2="68.03" stroke="#222" stroke-width="1.0"/>
<line x1="169.50" y1="65.49" x2="172.50" y2="65.49" stroke="#222" stroke-width="1.0"/>
<line x1="169.50" y1="63.28" x2="172.50" y2="63.28" stroke="#222" stroke-width="1.0"/>
<line x1="169.50" y1="61.34" x2="172.50" y2="61.34" stroke="#222" stroke-width="1.0"/>
<line x1="166.50" y1="59.60" x2="172.50" y2="59.60" stroke="#222" stroke-width="1.0"/>
<line x1="169.50" y1="48.16" x2="172.50" y2="48.16" stroke="#222" stroke-width="1.0"/>
<line x1="169.50" y1="41.47" x2="172.50" y2="41.47" stroke="#222" stroke-width="1.0"/>
<line x1="169.50" y1="36.72" x2="172.50" y2="36.72" stroke="#222" stroke-width="1.0"/>
<line x1="169.50" y1="33.04" x2="172.50" y2="33.04" stroke="#222" stroke-width="1.0"/>
<line x1="169.50" y1="30.03" x2="172.50" y2="30.03" stroke="#222" stroke-width="1.0"/>
<line x1="174.55" y1="158.40" x2="174.55" y2="161.90" stroke="#222" stroke-width="1.0"/>
<line x1="177.81" y1="158.40" x2="177.81" y2="161.90" stroke="#222" stroke-width="1.0"/>
<line x1="180.34" y1="158.40" x2="180.34" y2="161.90" stroke="#222" stroke-width="1.0"/>
<line x1="182.41" y1="158.40" x2="182.41" y2="161.90" stroke="#222" stroke-width="1.0"/>
<line x1="184.16" y1="158.40" x2="184.16" y2="161.90" stroke="#222" stroke-width="1.0"/>
<line x1="185.67" y1="158.40" x2="185.67" y2="161.90" stroke="#222" stroke-width="1.0"/>
<line x1="187.01" y1="158.40" x2="187.01" y2="161.90" stroke="#222" stroke-width="1.0"/>
<line x1="188.20" y1="158.40" x2="188.20" y2="164.40" stroke="#222" stroke-width="1.0"/>
<line x1="196.06" y1="158.40" x2="196.06" y2="161.90" stroke="#222" stroke-width="1.0"/>
<line x1="200.65" y1="158.40" x2="200.65" y2="161.90" stroke="#222" stroke-width="1.0"/>
<line x1="203.91" y1="158.40" x2="203.91" y2="161.90" stroke="#222" stroke-width="1.0"/>
<line x1="206.44" y1="158.40" x2="206.44" y2="161.90" stroke="#222" stroke-width="1.0"/>
<line x1="208.51" y1="158.40" x2="208.51" y2="161.90" stroke="#222" stroke-width="1.0"/>
<line x1="210.26" y1="158.40" x2="210.26" y2="161.90" stroke="#222" stroke-width="1.0"/>
<line x1="211.77" y1="158.40" x2="211.77" y2="161.90" stroke="#222" stroke-width="1.0"/>
<line x1="213.11" y1="158.40" x2="213.11" y2="161.90" stroke="#222" stroke-width="1.0"/>
<line x1="214.30" y1="158.40" x2="214.30" y2="164.40" stroke="#222" stroke-width="1.0"/>
<line x1="222.16" y1="158.40" x2="222.16" y2="161.90" stroke="#222" stroke-width="1.0"/>
<line x1="226.75" y1="158.40" x2="226.75" y2="161.90" stroke="#222" stroke-width="1.0"/>
<line x1="230.01" y1="158.40" x2="230.01" y2="161.90" stroke="#222" stroke-width="1.0"/>
<line x1="232.54" y1="158.40" x2="232.54" y2="161.90" stroke="#222" stroke-width="1.0"/>
<line x1="234.61" y1="158.40" x2="234.61" y2="161.90" stroke="#222" stroke-width="1.0"/>
<line x1="236.36" y1="158.40" x2="236.36" y2="161.90" stroke="#222" stroke-width="1.0"/>
<line x1="237.87" y1="158.40" x2="237.87" y2="161.90" stroke="#222" stroke-width="1.0"/>
<line x1="239.21" y1="158.40" x2="239.21" y2="161.90" stroke="#222" stroke-width="1.0"/>
<line x1="240.40" y1="158.40" x2="240.40" y2="164.40" stroke="#222" stroke-width="1.0"/>
<line x1="248.26" y1="158.40" x2="248.26" y2="161.90" stroke="#222" stroke-width="1.0"/>
<line x1="252.85" y1="158.40" x2="252.85" y2="161.90" stroke="#222" stroke-width="1.0"/>
<line x1="256.11" y1="158.40" x2="256.11" y2="161.90" stroke="#222" stroke-width="1.0"/>
<line x1="258.64" y1="158.40" x2="258.64" y2="161.90" stroke="#222" stroke-width="1.0"/>
<line x1="260.71" y1="158.40" x2="260.71" y2="161.90" stroke="#222" stroke-width="1.0"/>
<line x1="262.46" y1="158.40" x2="262.46" y2="161.90" stroke="#222" stroke-width="1.0"/>
<line x1="263.97" y1="158.40" x2="263.97" y2="161.90" stroke="#222" stroke-width="1.0"/>
<line x1="265.31" y1="158.40" x2="265.31" y2="161.90" stroke="#222" stroke-width="1.0"/>
<line x1="266.50" y1="158.40" x2="266.50" y2="164.40" stroke="#222" stroke-width="1.0"/>
<line x1="274.36" y1="158.40" x2="274.36" y2="161.90" stroke="#222" stroke-width="1.0"/>
<text x="166.00" y="61.90" font-size="7.2" text-anchor="end" fill="#222">10<tspan font-size="5.6" dy="-3.2">4</tspan></text>
<text x="166.00" y="99.90" font-size="7.2" text-anchor="end" fill="#222">10<tspan font-size="5.6" dy="-3.2">3</tspan></text>
<text x="166.00" y="137.90" font-size="7.2" text-anchor="end" fill="#222">10<tspan font-size="5.6" dy="-3.2">2</tspan></text>
<text x="184.60" y="171.90" font-size="7.2" fill="#222">10<tspan font-size="5.6" dy="-3.2">2</tspan></text>
<text x="210.70" y="171.90" font-size="7.2" fill="#222">10<tspan font-size="5.6" dy="-3.2">3</tspan></text>
<text x="236.80" y="171.90" font-size="7.2" fill="#222">10<tspan font-size="5.6" dy="-3.2">4</tspan></text>
<text x="262.90" y="171.90" font-size="7.2" fill="#222">10<tspan font-size="5.6" dy="-3.2">5</tspan></text>
<rect x="172.50" y="28.30" width="103.50" height="130.10" fill="none" stroke="#111" stroke-width="1.3"/>
<path d="M21.9 178.40 V34.00" stroke="#333" stroke-width="1.8" fill="none"/>
<path d="M19.1 35.40 L21.9 29.20 L24.7 35.40 Z" fill="#111"/>
<path d="M21 178.40 H272" stroke="#222" stroke-width="1.6" fill="none"/>
<path d="M271.3 175.60 L278 178.40 L271.3 181.20 Z" fill="#111"/>
<text transform="translate(7.40,103.20) rotate(-90)" x="0" y="0" font-size="15" font-weight="normal" text-anchor="middle" dominant-baseline="central" fill="#111">CD117-Pacific Blue</text>
<text x="163.50" y="195.20" font-size="15" font-weight="normal" text-anchor="middle" fill="#111" >Sca-1 PE-Cy7</text>
<text x="78.20" y="14.80" font-size="17" font-weight="bold" text-anchor="start" fill="#111" >IFN-<tspan font-family="Liberation Serif" font-weight="normal">γ</tspan></text>
<text x="195.50" y="14.80" font-size="17" font-weight="bold" text-anchor="start" fill="#111" >Control</text>
<rect x="90.60" y="38.80" width="51.80" height="72.00" fill="none" stroke="#111" stroke-width="1.3"/>
<rect x="218.30" y="38.80" width="52.00" height="72.00" fill="none" stroke="#111" stroke-width="1.3"/>
<text x="98.20" y="53.30" font-size="11.2" font-weight="bold" text-anchor="start" fill="#111" >0.473%</text>
<text x="226.30" y="53.30" font-size="11.2" font-weight="bold" text-anchor="start" fill="#111" >0.116%</text>
<text x="1.60" y="232.60" font-size="17" font-weight="bold" text-anchor="start" fill="#111" >B</text>
<line x1="42.40" y1="372.77" x2="45.40" y2="372.77" stroke="#222" stroke-width="1.0"/>
<line x1="42.40" y1="368.02" x2="45.40" y2="368.02" stroke="#222" stroke-width="1.0"/>
<line x1="42.40" y1="364.34" x2="45.40" y2="364.34" stroke="#222" stroke-width="1.0"/>
<line x1="42.40" y1="361.33" x2="45.40" y2="361.33" stroke="#222" stroke-width="1.0"/>
<line x1="42.40" y1="358.79" x2="45.40" y2="358.79" stroke="#222" stroke-width="1.0"/>
<line x1="42.40" y1="356.58" x2="45.40" y2="356.58" stroke="#222" stroke-width="1.0"/>
<line x1="42.40" y1="354.64" x2="45.40" y2="354.64" stroke="#222" stroke-width="1.0"/>
<line x1="39.40" y1="352.90" x2="45.40" y2="352.90" stroke="#222" stroke-width="1.0"/>
<line x1="42.40" y1="341.46" x2="45.40" y2="341.46" stroke="#222" stroke-width="1.0"/>
<line x1="42.40" y1="334.77" x2="45.40" y2="334.77" stroke="#222" stroke-width="1.0"/>
<line x1="42.40" y1="330.02" x2="45.40" y2="330.02" stroke="#222" stroke-width="1.0"/>
<line x1="42.40" y1="326.34" x2="45.40" y2="326.34" stroke="#222" stroke-width="1.0"/>
<line x1="42.40" y1="323.33" x2="45.40" y2="323.33" stroke="#222" stroke-width="1.0"/>
<line x1="42.40" y1="320.79" x2="45.40" y2="320.79" stroke="#222" stroke-width="1.0"/>
<line x1="42.40" y1="318.58" x2="45.40" y2="318.58" stroke="#222" stroke-width="1.0"/>
<line x1="42.40" y1="316.64" x2="45.40" y2="316.64" stroke="#222" stroke-width="1.0"/>
<line x1="39.40" y1="314.90" x2="45.40" y2="314.90" stroke="#222" stroke-width="1.0"/>
<line x1="42.40" y1="303.46" x2="45.40" y2="303.46" stroke="#222" stroke-width="1.0"/>
<line x1="42.40" y1="296.77" x2="45.40" y2="296.77" stroke="#222" stroke-width="1.0"/>
<line x1="42.40" y1="292.02" x2="45.40" y2="292.02" stroke="#222" stroke-width="1.0"/>
<line x1="42.40" y1="288.34" x2="45.40" y2="288.34" stroke="#222" stroke-width="1.0"/>
<line x1="42.40" y1="285.33" x2="45.40" y2="285.33" stroke="#222" stroke-width="1.0"/>
<line x1="42.40" y1="282.79" x2="45.40" y2="282.79" stroke="#222" stroke-width="1.0"/>
<line x1="42.40" y1="280.58" x2="45.40" y2="280.58" stroke="#222" stroke-width="1.0"/>
<line x1="42.40" y1="278.64" x2="45.40" y2="278.64" stroke="#222" stroke-width="1.0"/>
<line x1="39.40" y1="276.90" x2="45.40" y2="276.90" stroke="#222" stroke-width="1.0"/>
<line x1="42.40" y1="265.46" x2="45.40" y2="265.46" stroke="#222" stroke-width="1.0"/>
<line x1="42.40" y1="258.77" x2="45.40" y2="258.77" stroke="#222" stroke-width="1.0"/>
<line x1="42.40" y1="254.02" x2="45.40" y2="254.02" stroke="#222" stroke-width="1.0"/>
<line x1="42.40" y1="250.34" x2="45.40" y2="250.34" stroke="#222" stroke-width="1.0"/>
<line x1="42.40" y1="247.33" x2="45.40" y2="247.33" stroke="#222" stroke-width="1.0"/>
<line x1="47.35" y1="375.70" x2="47.35" y2="379.20" stroke="#222" stroke-width="1.0"/>
<line x1="50.61" y1="375.70" x2="50.61" y2="379.20" stroke="#222" stroke-width="1.0"/>
<line x1="53.14" y1="375.70" x2="53.14" y2="379.20" stroke="#222" stroke-width="1.0"/>
<line x1="55.21" y1="375.70" x2="55.21" y2="379.20" stroke="#222" stroke-width="1.0"/>
<line x1="56.96" y1="375.70" x2="56.96" y2="379.20" stroke="#222" stroke-width="1.0"/>
<line x1="58.47" y1="375.70" x2="58.47" y2="379.20" stroke="#222" stroke-width="1.0"/>
<line x1="59.81" y1="375.70" x2="59.81" y2="379.20" stroke="#222" stroke-width="1.0"/>
<line x1="61.00" y1="375.70" x2="61.00" y2="381.70" stroke="#222" stroke-width="1.0"/>
<line x1="68.86" y1="375.70" x2="68.86" y2="379.20" stroke="#222" stroke-width="1.0"/>
<line x1="73.45" y1="375.70" x2="73.45" y2="379.20" stroke="#222" stroke-width="1.0"/>
<line x1="76.71" y1="375.70" x2="76.71" y2="379.20" stroke="#222" stroke-width="1.0"/>
<line x1="79.24" y1="375.70" x2="79.24" y2="379.20" stroke="#222" stroke-width="1.0"/>
<line x1="81.31" y1="375.70" x2="81.31" y2="379.20" stroke="#222" stroke-width="1.0"/>
<line x1="83.06" y1="375.70" x2="83.06" y2="379.20" stroke="#222" stroke-width="1.0"/>
<line x1="84.57" y1="375.70" x2="84.57" y2="379.20" stroke="#222" stroke-width="1.0"/>
<line x1="85.91" y1="375.70" x2="85.91" y2="379.20" stroke="#222" stroke-width="1.0"/>
<line x1="87.10" y1="375.70" x2="87.10" y2="381.70" stroke="#222" stroke-width="1.0"/>
<line x1="94.96" y1="375.70" x2="94.96" y2="379.20" stroke="#222" stroke-width="1.0"/>
<line x1="99.55" y1="375.70" x2="99.55" y2="379.20" stroke="#222" stroke-width="1.0"/>
<line x1="102.81" y1="375.70" x2="102.81" y2="379.20" stroke="#222" stroke-width="1.0"/>
<line x1="105.34" y1="375.70" x2="105.34" y2="379.20" stroke="#222" stroke-width="1.0"/>
<line x1="107.41" y1="375.70" x2="107.41" y2="379.20" stroke="#222" stroke-width="1.0"/>
<line x1="109.16" y1="375.70" x2="109.16" y2="379.20" stroke="#222" stroke-width="1.0"/>
<line x1="110.67" y1="375.70" x2="110.67" y2="379.20" stroke="#222" stroke-width="1.0"/>
<line x1="112.01" y1="375.70" x2="112.01" y2="379.20" stroke="#222" stroke-width="1.0"/>
<line x1="113.20" y1="375.70" x2="113.20" y2="381.70" stroke="#222" stroke-width="1.0"/>
<line x1="121.06" y1="375.70" x2="121.06" y2="379.20" stroke="#222" stroke-width="1.0"/>
<line x1="125.65" y1="375.70" x2="125.65" y2="379.20" stroke="#222" stroke-width="1.0"/>
<line x1="128.91" y1="375.70" x2="128.91" y2="379.20" stroke="#222" stroke-width="1.0"/>
<line x1="131.44" y1="375.70" x2="131.44" y2="379.20" stroke="#222" stroke-width="1.0"/>
<line x1="133.51" y1="375.70" x2="133.51" y2="379.20" stroke="#222" stroke-width="1.0"/>
<line x1="135.26" y1="375.70" x2="135.26" y2="379.20" stroke="#222" stroke-width="1.0"/>
<line x1="136.77" y1="375.70" x2="136.77" y2="379.20" stroke="#222" stroke-width="1.0"/>
<line x1="138.11" y1="375.70" x2="138.11" y2="379.20" stroke="#222" stroke-width="1.0"/>
<line x1="139.30" y1="375.70" x2="139.30" y2="381.70" stroke="#222" stroke-width="1.0"/>
<line x1="147.16" y1="375.70" x2="147.16" y2="379.20" stroke="#222" stroke-width="1.0"/>
<text x="38.90" y="279.20" font-size="7.2" text-anchor="end" fill="#222">10<tspan font-size="5.6" dy="-3.2">4</tspan></text>
<text x="38.90" y="317.20" font-size="7.2" text-anchor="end" fill="#222">10<tspan font-size="5.6" dy="-3.2">3</tspan></text>
<text x="38.90" y="355.20" font-size="7.2" text-anchor="end" fill="#222">10<tspan font-size="5.6" dy="-3.2">2</tspan></text>
<text x="57.40" y="389.20" font-size="7.2" fill="#222">10<tspan font-size="5.6" dy="-3.2">2</tspan></text>
<text x="83.50" y="389.20" font-size="7.2" fill="#222">10<tspan font-size="5.6" dy="-3.2">3</tspan></text>
<text x="109.60" y="389.20" font-size="7.2" fill="#222">10<tspan font-size="5.6" dy="-3.2">4</tspan></text>
<text x="135.70" y="389.20" font-size="7.2" fill="#222">10<tspan font-size="5.6" dy="-3.2">5</tspan></text>
<rect x="45.40" y="245.60" width="103.60" height="130.10" fill="none" stroke="#111" stroke-width="1.3"/>
<line x1="169.50" y1="372.77" x2="172.50" y2="372.77" stroke="#222" stroke-width="1.0"/>
<line x1="169.50" y1="368.02" x2="172.50" y2="368.02" stroke="#222" stroke-width="1.0"/>
<line x1="169.50" y1="364.34" x2="172.50" y2="364.34" stroke="#222" stroke-width="1.0"/>
<line x1="169.50" y1="361.33" x2="172.50" y2="361.33" stroke="#222" stroke-width="1.0"/>
<line x1="169.50" y1="358.79" x2="172.50" y2="358.79" stroke="#222" stroke-width="1.0"/>
<line x1="169.50" y1="356.58" x2="172.50" y2="356.58" stroke="#222" stroke-width="1.0"/>
<line x1="169.50" y1="354.64" x2="172.50" y2="354.64" stroke="#222" stroke-width="1.0"/>
<line x1="166.50" y1="352.90" x2="172.50" y2="352.90" stroke="#222" stroke-width="1.0"/>
<line x1="169.50" y1="341.46" x2="172.50" y2="341.46" stroke="#222" stroke-width="1.0"/>
<line x1="169.50" y1="334.77" x2="172.50" y2="334.77" stroke="#222" stroke-width="1.0"/>
<line x1="169.50" y1="330.02" x2="172.50" y2="330.02" stroke="#222" stroke-width="1.0"/>
<line x1="169.50" y1="326.34" x2="172.50" y2="326.34" stroke="#222" stroke-width="1.0"/>
<line x1="169.50" y1="323.33" x2="172.50" y2="323.33" stroke="#222" stroke-width="1.0"/>
<line x1="169.50" y1="320.79" x2="172.50" y2="320.79" stroke="#222" stroke-width="1.0"/>
<line x1="169.50" y1="318.58" x2="172.50" y2="318.58" stroke="#222" stroke-width="1.0"/>
<line x1="169.50" y1="316.64" x2="172.50" y2="316.64" stroke="#222" stroke-width="1.0"/>
<line x1="166.50" y1="314.90" x2="172.50" y2="314.90" stroke="#222" stroke-width="1.0"/>
<line x1="169.50" y1="303.46" x2="172.50" y2="303.46" stroke="#222" stroke-width="1.0"/>
<line x1="169.50" y1="296.77" x2="172.50" y2="296.77" stroke="#222" stroke-width="1.0"/>
<line x1="169.50" y1="292.02" x2="172.50" y2="292.02" stroke="#222" stroke-width="1.0"/>
<line x1="169.50" y1="288.34" x2="172.50" y2="288.34" stroke="#222" stroke-width="1.0"/>
<line x1="169.50" y1="285.33" x2="172.50" y2="285.33" stroke="#222" stroke-width="1.0"/>
<line x1="169.50" y1="282.79" x2="172.50" y2="282.79" stroke="#222" stroke-width="1.0"/>
<line x1="169.50" y1="280.58" x2="172.50" y2="280.58" stroke="#222" stroke-width="1.0"/>
<line x1="169.50" y1="278.64" x2="172.50" y2="278.64" stroke="#222" stroke-width="1.0"/>
<line x1="166.50" y1="276.90" x2="172.50" y2="276.90" stroke="#222" stroke-width="1.0"/>
<line x1="169.50" y1="265.46" x2="172.50" y2="265.46" stroke="#222" stroke-width="1.0"/>
<line x1="169.50" y1="258.77" x2="172.50" y2="258.77" stroke="#222" stroke-width="1.0"/>
<line x1="169.50" y1="254.02" x2="172.50" y2="254.02" stroke="#222" stroke-width="1.0"/>
<line x1="169.50" y1="250.34" x2="172.50" y2="250.34" stroke="#222" stroke-width="1.0"/>
<line x1="169.50" y1="247.33" x2="172.50" y2="247.33" stroke="#222" stroke-width="1.0"/>
<line x1="174.55" y1="375.70" x2="174.55" y2="379.20" stroke="#222" stroke-width="1.0"/>
<line x1="177.81" y1="375.70" x2="177.81" y2="379.20" stroke="#222" stroke-width="1.0"/>
<line x1="180.34" y1="375.70" x2="180.34" y2="379.20" stroke="#222" stroke-width="1.0"/>
<line x1="182.41" y1="375.70" x2="182.41" y2="379.20" stroke="#222" stroke-width="1.0"/>
<line x1="184.16" y1="375.70" x2="184.16" y2="379.20" stroke="#222" stroke-width="1.0"/>
<line x1="185.67" y1="375.70" x2="185.67" y2="379.20" stroke="#222" stroke-width="1.0"/>
<line x1="187.01" y1="375.70" x2="187.01" y2="379.20" stroke="#222" stroke-width="1.0"/>
<line x1="188.20" y1="375.70" x2="188.20" y2="381.70" stroke="#222" stroke-width="1.0"/>
<line x1="196.06" y1="375.70" x2="196.06" y2="379.20" stroke="#222" stroke-width="1.0"/>
<line x1="200.65" y1="375.70" x2="200.65" y2="379.20" stroke="#222" stroke-width="1.0"/>
<line x1="203.91" y1="375.70" x2="203.91" y2="379.20" stroke="#222" stroke-width="1.0"/>
<line x1="206.44" y1="375.70" x2="206.44" y2="379.20" stroke="#222" stroke-width="1.0"/>
<line x1="208.51" y1="375.70" x2="208.51" y2="379.20" stroke="#222" stroke-width="1.0"/>
<line x1="210.26" y1="375.70" x2="210.26" y2="379.20" stroke="#222" stroke-width="1.0"/>
<line x1="211.77" y1="375.70" x2="211.77" y2="379.20" stroke="#222" stroke-width="1.0"/>
<line x1="213.11" y1="375.70" x2="213.11" y2="379.20" stroke="#222" stroke-width="1.0"/>
<line x1="214.30" y1="375.70" x2="214.30" y2="381.70" stroke="#222" stroke-width="1.0"/>
<line x1="222.16" y1="375.70" x2="222.16" y2="379.20" stroke="#222" stroke-width="1.0"/>
<line x1="226.75" y1="375.70" x2="226.75" y2="379.20" stroke="#222" stroke-width="1.0"/>
<line x1="230.01" y1="375.70" x2="230.01" y2="379.20" stroke="#222" stroke-width="1.0"/>
<line x1="232.54" y1="375.70" x2="232.54" y2="379.20" stroke="#222" stroke-width="1.0"/>
<line x1="234.61" y1="375.70" x2="234.61" y2="379.20" stroke="#222" stroke-width="1.0"/>
<line x1="236.36" y1="375.70" x2="236.36" y2="379.20" stroke="#222" stroke-width="1.0"/>
<line x1="237.87" y1="375.70" x2="237.87" y2="379.20" stroke="#222" stroke-width="1.0"/>
<line x1="239.21" y1="375.70" x2="239.21" y2="379.20" stroke="#222" stroke-width="1.0"/>
<line x1="240.40" y1="375.70" x2="240.40" y2="381.70" stroke="#222" stroke-width="1.0"/>
<line x1="248.26" y1="375.70" x2="248.26" y2="379.20" stroke="#222" stroke-width="1.0"/>
<line x1="252.85" y1="375.70" x2="252.85" y2="379.20" stroke="#222" stroke-width="1.0"/>
<line x1="256.11" y1="375.70" x2="256.11" y2="379.20" stroke="#222" stroke-width="1.0"/>
<line x1="258.64" y1="375.70" x2="258.64" y2="379.20" stroke="#222" stroke-width="1.0"/>
<line x1="260.71" y1="375.70" x2="260.71" y2="379.20" stroke="#222" stroke-width="1.0"/>
<line x1="262.46" y1="375.70" x2="262.46" y2="379.20" stroke="#222" stroke-width="1.0"/>
<line x1="263.97" y1="375.70" x2="263.97" y2="379.20" stroke="#222" stroke-width="1.0"/>
<line x1="265.31" y1="375.70" x2="265.31" y2="379.20" stroke="#222" stroke-width="1.0"/>
<line x1="266.50" y1="375.70" x2="266.50" y2="381.70" stroke="#222" stroke-width="1.0"/>
<line x1="274.36" y1="375.70" x2="274.36" y2="379.20" stroke="#222" stroke-width="1.0"/>
<text x="166.00" y="279.20" font-size="7.2" text-anchor="end" fill="#222">10<tspan font-size="5.6" dy="-3.2">4</tspan></text>
<text x="166.00" y="317.20" font-size="7.2" text-anchor="end" fill="#222">10<tspan font-size="5.6" dy="-3.2">3</tspan></text>
<text x="166.00" y="355.20" font-size="7.2" text-anchor="end" fill="#222">10<tspan font-size="5.6" dy="-3.2">2</tspan></text>
<text x="184.60" y="389.20" font-size="7.2" fill="#222">10<tspan font-size="5.6" dy="-3.2">2</tspan></text>
<text x="210.70" y="389.20" font-size="7.2" fill="#222">10<tspan font-size="5.6" dy="-3.2">3</tspan></text>
<text x="236.80" y="389.20" font-size="7.2" fill="#222">10<tspan font-size="5.6" dy="-3.2">4</tspan></text>
<text x="262.90" y="389.20" font-size="7.2" fill="#222">10<tspan font-size="5.6" dy="-3.2">5</tspan></text>
<rect x="172.50" y="245.60" width="103.50" height="130.10" fill="none" stroke="#111" stroke-width="1.3"/>
<path d="M21.9 395.70 V251.30" stroke="#333" stroke-width="1.8" fill="none"/>
<path d="M19.1 252.70 L21.9 246.50 L24.7 252.70 Z" fill="#111"/>
<path d="M21 395.70 H272" stroke="#222" stroke-width="1.6" fill="none"/>
<path d="M271.3 392.90 L278 395.70 L271.3 398.50 Z" fill="#111"/>
<text transform="translate(7.40,321.30) rotate(-90)" x="0" y="0" font-size="15" font-weight="normal" text-anchor="middle" dominant-baseline="central" fill="#111">CD117-Pacific Blue</text>
<text x="163.50" y="412.50" font-size="15" font-weight="normal" text-anchor="middle" fill="#111" >Sca-1 PE-Cy7</text>
<text x="78.20" y="232.10" font-size="17" font-weight="bold" text-anchor="start" fill="#111" >IFN-<tspan font-family="Liberation Serif" font-weight="normal">γ</tspan></text>
<text x="195.50" y="232.10" font-size="17" font-weight="bold" text-anchor="start" fill="#111" >Control</text>
<rect x="87.50" y="249.30" width="61.00" height="58.70" fill="none" stroke="#111" stroke-width="1.3"/>
<rect x="214.50" y="249.30" width="61.30" height="58.70" fill="none" stroke="#111" stroke-width="1.3"/>
<text x="98.00" y="264.40" font-size="11.2" font-weight="bold" text-anchor="start" fill="#111" >2.289%</text>
<text x="227.00" y="264.40" font-size="11.2" font-weight="bold" text-anchor="start" fill="#111" >0.014%</text>
<path d="M337.3 29.40 V175.40 H519" stroke="#333" stroke-width="1.6" fill="none"/>
<line x1="337.30" y1="175.40" x2="342.80" y2="175.40" stroke="#333" stroke-width="1.4"/>
<text x="333.60" y="180.60" font-size="15" font-weight="normal" text-anchor="end" fill="#111" >0.0</text>
<line x1="337.30" y1="146.20" x2="342.80" y2="146.20" stroke="#333" stroke-width="1.4"/>
<text x="333.60" y="151.40" font-size="15" font-weight="normal" text-anchor="end" fill="#111" >0.2</text>
<line x1="337.30" y1="117.00" x2="342.80" y2="117.00" stroke="#333" stroke-width="1.4"/>
<text x="333.60" y="122.20" font-size="15" font-weight="normal" text-anchor="end" fill="#111" >0.4</text>
<line x1="337.30" y1="87.80" x2="342.80" y2="87.80" stroke="#333" stroke-width="1.4"/>
<text x="333.60" y="93.00" font-size="15" font-weight="normal" text-anchor="end" fill="#111" >0.6</text>
<line x1="337.30" y1="58.60" x2="342.80" y2="58.60" stroke="#333" stroke-width="1.4"/>
<text x="333.60" y="63.80" font-size="15" font-weight="normal" text-anchor="end" fill="#111" >0.8</text>
<line x1="337.30" y1="29.40" x2="342.80" y2="29.40" stroke="#333" stroke-width="1.4"/>
<text x="333.60" y="34.60" font-size="15" font-weight="normal" text-anchor="end" fill="#111" >1.0</text>
<line x1="382.50" y1="175.40" x2="382.50" y2="170.40" stroke="#333" stroke-width="1.3"/>
<line x1="472.50" y1="175.40" x2="472.50" y2="170.40" stroke="#333" stroke-width="1.3"/>
<text transform="translate(299.20,97.40) rotate(-90)" x="0" y="0" font-size="15" font-weight="normal" text-anchor="middle" dominant-baseline="central" fill="#111">%</text>
<text x="374.60" y="195.40" font-size="15" font-weight="normal" text-anchor="middle" fill="#111" >IFN-<tspan font-family="Liberation Serif" font-weight="normal">γ</tspan></text>
<text x="472.50" y="195.40" font-size="15" font-weight="normal" text-anchor="middle" fill="#111" >Control</text>
<text x="404.60" y="14.60" font-size="17" font-weight="bold" text-anchor="start" fill="#111" >KSL</text>
<path d="M382.6 27.3 H478 M382.6 22.7 V31.9 M478 22.7 V32" stroke="#333" stroke-width="1.3" fill="none"/>
<path d="M425.10 21.60L425.10 19.00M425.10 21.60L427.57 20.80M425.10 21.60L426.63 23.70M425.10 21.60L423.57 23.70M425.10 21.60L422.63 20.80M434.00 21.60L434.00 19.00M434.00 21.60L436.47 20.80M434.00 21.60L435.53 23.70M434.00 21.60L432.47 23.70M434.00 21.60L431.53 20.80" stroke="#111" stroke-width="1.7" stroke-linecap="round" fill="none"/>
<circle cx="382.5" cy="38.3" r="3.4" fill="#000"/>
<circle cx="382.5" cy="53.2" r="3.4" fill="#000"/>
<circle cx="382.5" cy="78" r="3.4" fill="#000"/>
<circle cx="375" cy="124.2" r="3.4" fill="#000"/>
<circle cx="383" cy="127" r="3.4" fill="#000"/>
<circle cx="390" cy="121" r="3.4" fill="#000"/>
<circle cx="375.5" cy="136" r="3.4" fill="#000"/>
<circle cx="383" cy="141.8" r="3.4" fill="#000"/>
<circle cx="390" cy="140.5" r="3.4" fill="#000"/>
<line x1="358.00" y1="107.00" x2="406.00" y2="107.00" stroke="#222" stroke-width="1.5"/>
<path d="M382.5 93 V119.5 M372 93 H392.5 M372 119.5 H392.5" stroke="#222" stroke-width="1.4" fill="none"/>
<rect x="459.3" y="149.3" width="5.4" height="5.4" fill="#000"/>
<rect x="455.3" y="155.3" width="5.4" height="5.4" fill="#000"/>
<rect x="462.3" y="157.3" width="5.4" height="5.4" fill="#000"/>
<rect x="469.8" y="152.3" width="5.4" height="5.4" fill="#000"/>
<rect x="477.3" y="148.8" width="5.4" height="5.4" fill="#000"/>
<rect x="476.8" y="155.8" width="5.4" height="5.4" fill="#000"/>
<rect x="483.3" y="155.8" width="5.4" height="5.4" fill="#000"/>
<rect x="469.8" y="162.3" width="5.4" height="5.4" fill="#000"/>
<rect x="477.3" y="162.3" width="5.4" height="5.4" fill="#000"/>
<line x1="449.50" y1="158.20" x2="497.00" y2="158.20" stroke="#222" stroke-width="1.5"/>
<path d="M337.3 247.50 V393.00 H519" stroke="#333" stroke-width="1.6" fill="none"/>
<line x1="337.30" y1="393.00" x2="342.80" y2="393.00" stroke="#333" stroke-width="1.4"/>
<text x="333.60" y="398.20" font-size="15" font-weight="normal" text-anchor="end" fill="#111" >0</text>
<line x1="337.30" y1="356.62" x2="342.80" y2="356.62" stroke="#333" stroke-width="1.4"/>
<text x="333.60" y="361.82" font-size="15" font-weight="normal" text-anchor="end" fill="#111" >1</text>
<line x1="337.30" y1="320.25" x2="342.80" y2="320.25" stroke="#333" stroke-width="1.4"/>
<text x="333.60" y="325.45" font-size="15" font-weight="normal" text-anchor="end" fill="#111" >2</text>
<line x1="337.30" y1="283.88" x2="342.80" y2="283.88" stroke="#333" stroke-width="1.4"/>
<text x="333.60" y="289.07" font-size="15" font-weight="normal" text-anchor="end" fill="#111" >3</text>
<line x1="337.30" y1="247.50" x2="342.80" y2="247.50" stroke="#333" stroke-width="1.4"/>
<text x="333.60" y="252.70" font-size="15" font-weight="normal" text-anchor="end" fill="#111" >4</text>
<line x1="382.50" y1="393.00" x2="382.50" y2="388.00" stroke="#333" stroke-width="1.3"/>
<line x1="472.50" y1="393.00" x2="472.50" y2="388.00" stroke="#333" stroke-width="1.3"/>
<text transform="translate(299.20,315.25) rotate(-90)" x="0" y="0" font-size="15" font-weight="normal" text-anchor="middle" dominant-baseline="central" fill="#111">%</text>
<text x="374.60" y="413.00" font-size="15" font-weight="normal" text-anchor="middle" fill="#111" >IFN-<tspan font-family="Liberation Serif" font-weight="normal">γ</tspan></text>
<text x="472.50" y="413.00" font-size="15" font-weight="normal" text-anchor="middle" fill="#111" >Control</text>
<text x="404.60" y="232.80" font-size="17" font-weight="bold" text-anchor="start" fill="#111" >KSL</text>
<path d="M382.6 267.3 H478 M382.6 262.5 V271.8 M478 262.5 V272" stroke="#333" stroke-width="1.3" fill="none"/>
<path d="M416.50 261.20L416.50 258.60M416.50 261.20L418.97 260.40M416.50 261.20L418.03 263.30M416.50 261.20L414.97 263.30M416.50 261.20L414.03 260.40M425.20 261.20L425.20 258.60M425.20 261.20L427.67 260.40M425.20 261.20L426.73 263.30M425.20 261.20L423.67 263.30M425.20 261.20L422.73 260.40M434.00 261.20L434.00 258.60M434.00 261.20L436.47 260.40M434.00 261.20L435.53 263.30M434.00 261.20L432.47 263.30M434.00 261.20L431.53 260.40M442.50 261.20L442.50 258.60M442.50 261.20L444.97 260.40M442.50 261.20L444.03 263.30M442.50 261.20L440.97 263.30M442.50 261.20L440.03 260.40" stroke="#111" stroke-width="1.7" stroke-linecap="round" fill="none"/>
<circle cx="378" cy="280.75" r="3.4" fill="#000"/>
<circle cx="386.25" cy="283.25" r="3.4" fill="#000"/>
<circle cx="375" cy="296.75" r="3.4" fill="#000"/>
<circle cx="389.5" cy="299.5" r="3.4" fill="#000"/>
<circle cx="382.5" cy="305" r="3.4" fill="#000"/>
<circle cx="375" cy="320" r="3.4" fill="#000"/>
<circle cx="390" cy="319.5" r="3.4" fill="#000"/>
<circle cx="382.5" cy="326.25" r="3.4" fill="#000"/>
<circle cx="385.75" cy="333" r="3.4" fill="#000"/>
<circle cx="378.75" cy="338.25" r="3.4" fill="#000"/>
<line x1="358.00" y1="310.75" x2="406.25" y2="310.75" stroke="#222" stroke-width="1.5"/>
<path d="M382.5 303.75 V316.25 M372 303.75 H392.5 M372 316.25 H392.5" stroke="#222" stroke-width="1.4" fill="none"/>
<rect x="437.7" y="389.2" width="5.6" height="5.6" fill="#000"/>
<rect x="444.59999999999997" y="389.2" width="5.6" height="5.6" fill="#000"/>
<rect x="451.5" y="389.2" width="5.6" height="5.6" fill="#000"/>
<rect x="458.4" y="389.2" width="5.6" height="5.6" fill="#000"/>
<rect x="465.3" y="389.2" width="5.6" height="5.6" fill="#000"/>
<rect x="472.2" y="389.2" width="5.6" height="5.6" fill="#000"/>
<rect x="479.09999999999997" y="389.2" width="5.6" height="5.6" fill="#000"/>
<rect x="486.0" y="389.2" width="5.6" height="5.6" fill="#000"/>
<rect x="492.9" y="389.2" width="5.6" height="5.6" fill="#000"/>
<rect x="499.8" y="389.2" width="5.6" height="5.6" fill="#000"/>
<text x="1.60" y="446.50" font-size="17" font-weight="bold" text-anchor="start" fill="#111" >C</text>
<text x="18.60" y="465.20" font-size="15" font-weight="normal" text-anchor="start" fill="#111" >KSL:BM = 180:3x10<tspan font-size="10.5" dy="-6.3">5</tspan></text>
<text x="357.60" y="465.40" font-size="14.6" font-weight="normal" text-anchor="start" fill="#111" >KSL:BM = 4800:4.8x10<tspan font-size="10.2" dy="-6.1">5</tspan></text>
<path d="M37 482.00 V707.20 H150.8" stroke="#333" stroke-width="1.6" fill="none"/>
<line x1="37.00" y1="707.20" x2="42.50" y2="707.20" stroke="#333" stroke-width="1.4"/>
<text x="33.70" y="712.40" font-size="15" font-weight="normal" text-anchor="end" fill="#111" >0</text>
<line x1="37.00" y1="632.13" x2="42.50" y2="632.13" stroke="#333" stroke-width="1.4"/>
<text x="33.70" y="637.33" font-size="15" font-weight="normal" text-anchor="end" fill="#111" >20</text>
<line x1="37.00" y1="557.07" x2="42.50" y2="557.07" stroke="#333" stroke-width="1.4"/>
<text x="33.70" y="562.27" font-size="15" font-weight="normal" text-anchor="end" fill="#111" >40</text>
<line x1="37.00" y1="482.00" x2="42.50" y2="482.00" stroke="#333" stroke-width="1.4"/>
<text x="33.70" y="487.20" font-size="15" font-weight="normal" text-anchor="end" fill="#111" >60</text>
<line x1="53.20" y1="707.20" x2="53.20" y2="702.20" stroke="#333" stroke-width="1.3"/>
<text x="53.20" y="723.20" font-size="15" font-weight="normal" text-anchor="middle" fill="#111" >1</text>
<line x1="86.00" y1="707.20" x2="86.00" y2="702.20" stroke="#333" stroke-width="1.3"/>
<text x="86.00" y="723.20" font-size="15" font-weight="normal" text-anchor="middle" fill="#111" >2</text>
<line x1="117.50" y1="707.20" x2="117.50" y2="702.20" stroke="#333" stroke-width="1.3"/>
<text x="117.50" y="723.20" font-size="15" font-weight="normal" text-anchor="middle" fill="#111" >3</text>
<line x1="150.80" y1="707.20" x2="150.80" y2="702.20" stroke="#333" stroke-width="1.3"/>
<text x="150.80" y="723.20" font-size="15" font-weight="normal" text-anchor="middle" fill="#111" >4</text>
<path d="M53.2 652.50 V707.20 M49.2 652.50 H57.2" stroke="#333" stroke-width="1.2" fill="none"/>
<path d="M86.0 559.00 V637.50 M82.0 559.00 H90.0" stroke="#333" stroke-width="1.2" fill="none"/>
<path d="M82.0 637.50 H90.0" stroke="#333" stroke-width="1.2" fill="none"/>
<path d="M117.5 521.50 V599.30 M113.5 521.50 H121.5" stroke="#333" stroke-width="1.2" fill="none"/>
<path d="M113.5 599.30 H121.5" stroke="#333" stroke-width="1.2" fill="none"/>
<path d="M150.8 502.50 V580.00 M146.8 502.50 H154.8" stroke="#333" stroke-width="1.2" fill="none"/>
<path d="M146.8 580.00 H154.8" stroke="#333" stroke-width="1.2" fill="none"/>
<path d="M53.2 677.00 V707.20 M49.2 677.00 H57.2" stroke="#333" stroke-width="1.2" fill="none"/>
<path d="M86.0 679.50 V707.20 M82.0 679.50 H90.0" stroke="#333" stroke-width="1.2" fill="none"/>
<path d="M117.5 687.50 V707.20 M113.5 687.50 H121.5" stroke="#333" stroke-width="1.2" fill="none"/>
<path d="M150.8 673.50 V707.20 M146.8 673.50 H154.8" stroke="#333" stroke-width="1.2" fill="none"/>
<path d="M53.2 690.8 C58.67 675.47 75.28 620.47 86.0 598.8 C96.72 577.13 106.70 570.38 117.5 560.8 C128.30 551.22 145.25 544.55 150.8 541.3" stroke="#000" stroke-width="2.2" fill="none"/>
<path d="M53.2 697 L86.0 697.5 L117.5 704.8 L150.8 692" stroke="#000" stroke-width="2.2" fill="none"/>
<circle cx="53.2" cy="697" r="4" fill="#000"/>
<circle cx="86.0" cy="697.5" r="4" fill="#000"/>
<circle cx="117.5" cy="704.8" r="4" fill="#000"/>
<circle cx="150.8" cy="692" r="4" fill="#000"/>
<circle cx="53.2" cy="690.8" r="3.7" fill="#fff" stroke="#000" stroke-width="1.3"/>
<circle cx="86.0" cy="598.8" r="3.7" fill="#fff" stroke="#000" stroke-width="1.3"/>
<circle cx="117.5" cy="560.8" r="3.7" fill="#fff" stroke="#000" stroke-width="1.3"/>
<circle cx="150.8" cy="541.3" r="3.7" fill="#fff" stroke="#000" stroke-width="1.3"/>
<text transform="translate(7.20,588.60) rotate(-90)" x="0" y="0" font-size="15" font-weight="normal" text-anchor="middle" dominant-baseline="central" fill="#111">Donor %</text>
<text x="102.00" y="737.30" font-size="15" font-weight="normal" text-anchor="middle" fill="#111" >Months</text>
<path d="M48.5 491.2 H64.3 M48.5 506.9 H64.3" stroke="#000" stroke-width="2"/>
<circle cx="56.3" cy="491.2" r="3.8" fill="#000"/>
<circle cx="56.3" cy="506.9" r="3.5" fill="#fff" stroke="#000" stroke-width="1.3"/>
<text x="72.00" y="495.40" font-size="11.2" font-weight="normal" text-anchor="start" fill="#111" >IFN-<tspan font-family="Liberation Serif" font-weight="normal">γ</tspan></text>
<text x="72.00" y="510.40" font-size="11.2" font-weight="normal" text-anchor="start" fill="#111" >Control</text>
<path d="M400.8 482.20 V707.40 H514.1" stroke="#333" stroke-width="1.6" fill="none"/>
<line x1="400.80" y1="707.40" x2="406.30" y2="707.40" stroke="#333" stroke-width="1.4"/>
<text x="397.50" y="712.60" font-size="15" font-weight="normal" text-anchor="end" fill="#111" >0</text>
<line x1="400.80" y1="632.33" x2="406.30" y2="632.33" stroke="#333" stroke-width="1.4"/>
<text x="397.50" y="637.53" font-size="15" font-weight="normal" text-anchor="end" fill="#111" >25</text>
<line x1="400.80" y1="557.27" x2="406.30" y2="557.27" stroke="#333" stroke-width="1.4"/>
<text x="397.50" y="562.47" font-size="15" font-weight="normal" text-anchor="end" fill="#111" >50</text>
<line x1="400.80" y1="482.20" x2="406.30" y2="482.20" stroke="#333" stroke-width="1.4"/>
<text x="397.50" y="487.40" font-size="15" font-weight="normal" text-anchor="end" fill="#111" >75</text>
<line x1="416.80" y1="707.40" x2="416.80" y2="702.40" stroke="#333" stroke-width="1.3"/>
<text x="416.80" y="723.40" font-size="15" font-weight="normal" text-anchor="middle" fill="#111" >1</text>
<line x1="465.30" y1="707.40" x2="465.30" y2="702.40" stroke="#333" stroke-width="1.3"/>
<text x="465.30" y="723.40" font-size="15" font-weight="normal" text-anchor="middle" fill="#111" >2</text>
<line x1="514.10" y1="707.40" x2="514.10" y2="702.40" stroke="#333" stroke-width="1.3"/>
<text x="514.10" y="723.40" font-size="15" font-weight="normal" text-anchor="middle" fill="#111" >3</text>
<path d="M416.8 553.50 V570.80 M412.8 553.50 H420.8" stroke="#333" stroke-width="1.2" fill="none"/>
<path d="M412.8 570.80 H420.8" stroke="#333" stroke-width="1.2" fill="none"/>
<path d="M465.3 540.40 V557.00 M461.3 540.40 H469.3" stroke="#333" stroke-width="1.2" fill="none"/>
<path d="M461.3 557.00 H469.3" stroke="#333" stroke-width="1.2" fill="none"/>
<path d="M514.1 524.80 V542.10 M510.1 524.80 H518.1" stroke="#333" stroke-width="1.2" fill="none"/>
<path d="M510.1 542.10 H518.1" stroke="#333" stroke-width="1.2" fill="none"/>
<path d="M416.8 686.70 V696.30 M412.8 686.70 H420.8" stroke="#333" stroke-width="1.2" fill="none"/>
<path d="M412.8 696.30 H420.8" stroke="#333" stroke-width="1.2" fill="none"/>
<path d="M465.3 680.80 V690.40 M461.3 680.80 H469.3" stroke="#333" stroke-width="1.2" fill="none"/>
<path d="M461.3 690.40 H469.3" stroke="#333" stroke-width="1.2" fill="none"/>
<path d="M514.1 691.80 V701.40 M510.1 691.80 H518.1" stroke="#333" stroke-width="1.2" fill="none"/>
<path d="M510.1 701.40 H518.1" stroke="#333" stroke-width="1.2" fill="none"/>
<path d="M416.8 561.8 L465.3 548.3 L514.1 533.5" stroke="#000" stroke-width="2.2" fill="none"/>
<path d="M416.8 691.5 L465.3 685.6 L514.1 696.6" stroke="#000" stroke-width="2.2" fill="none"/>
<circle cx="416.8" cy="691.5" r="4" fill="#000"/>
<circle cx="465.3" cy="685.6" r="4" fill="#000"/>
<circle cx="514.1" cy="696.6" r="4" fill="#000"/>
<circle cx="416.8" cy="561.8" r="3.7" fill="#fff" stroke="#000" stroke-width="1.3"/>
<circle cx="465.3" cy="548.3" r="3.7" fill="#fff" stroke="#000" stroke-width="1.3"/>
<circle cx="514.1" cy="533.5" r="3.7" fill="#fff" stroke="#000" stroke-width="1.3"/>
<text transform="translate(370.60,589.00) rotate(-90)" x="0" y="0" font-size="15" font-weight="normal" text-anchor="middle" dominant-baseline="central" fill="#111">Donor %</text>
<text x="458.30" y="737.00" font-size="15" font-weight="normal" text-anchor="middle" fill="#111" >Months</text>
<path d="M199.5 721.2 V467" stroke="#222" stroke-width="1.6" fill="none"/>
<path d="M196.8 468.8 L199.5 462.3 L202.2 468.8 Z" fill="#111"/>
<path d="M198.7 720.9 H324" stroke="#222" stroke-width="1.5" fill="none"/>
<path d="M323.5 718.2 L330.2 720.9 L323.5 723.6 Z" fill="#111"/>
<text transform="translate(189.30,588.50) rotate(-90)" x="0" y="0" font-size="15" font-weight="normal" text-anchor="middle" dominant-baseline="central" fill="#111">CD45.2-FITC</text>
<text x="264.10" y="738.30" font-size="15" font-weight="normal" text-anchor="middle" fill="#111" >CD45.1-APC</text>
<rect x="210.70" y="461.00" width="63.00" height="42.80" fill="none" stroke="#111" stroke-width="1.3"/>
<rect x="210.70" y="503.80" width="119.60" height="80.00" fill="none" stroke="#111" stroke-width="1.3"/>
<line x1="273.70" y1="503.80" x2="273.70" y2="583.80" stroke="#111" stroke-width="1.3"/>
<rect x="210.70" y="589.20" width="63.00" height="42.80" fill="none" stroke="#111" stroke-width="1.3"/>
<rect x="210.70" y="632.00" width="119.60" height="80.00" fill="none" stroke="#111" stroke-width="1.3"/>
<line x1="273.70" y1="632.00" x2="273.70" y2="712.00" stroke="#111" stroke-width="1.3"/>
<text x="272.30" y="473.80" font-size="11" font-weight="bold" text-anchor="end" fill="#111" >4.0%</text>
<text x="284.20" y="481.00" font-size="11" font-weight="bold" text-anchor="start" fill="#111" >IFN-<tspan font-family="Liberation Serif" font-weight="normal">γ</tspan></text>
<text x="284.20" y="492.30" font-size="11" font-weight="bold" text-anchor="start" fill="#111" >KSL</text>
<text x="304.50" y="520.80" font-size="11" font-weight="bold" text-anchor="start" fill="#111" >93.3%</text>
<text x="273.80" y="600.60" font-size="11" font-weight="bold" text-anchor="end" fill="#111" >51.1%</text>
<text x="280.30" y="602.50" font-size="11" font-weight="bold" text-anchor="start" fill="#111" >Control</text>
<text x="280.30" y="617.50" font-size="11" font-weight="bold" text-anchor="start" fill="#111" >KSL</text>
<text x="305.00" y="647.40" font-size="11" font-weight="bold" text-anchor="start" fill="#111" >46.3%</text>
<text x="297.80" y="707.60" font-size="10.5" font-weight="normal" text-anchor="start" fill="#555" >P9</text>
<text x="237.40" y="492.60" font-size="10.5" font-weight="normal" text-anchor="start" fill="#555" >P6</text>
</svg>
</body></html>
